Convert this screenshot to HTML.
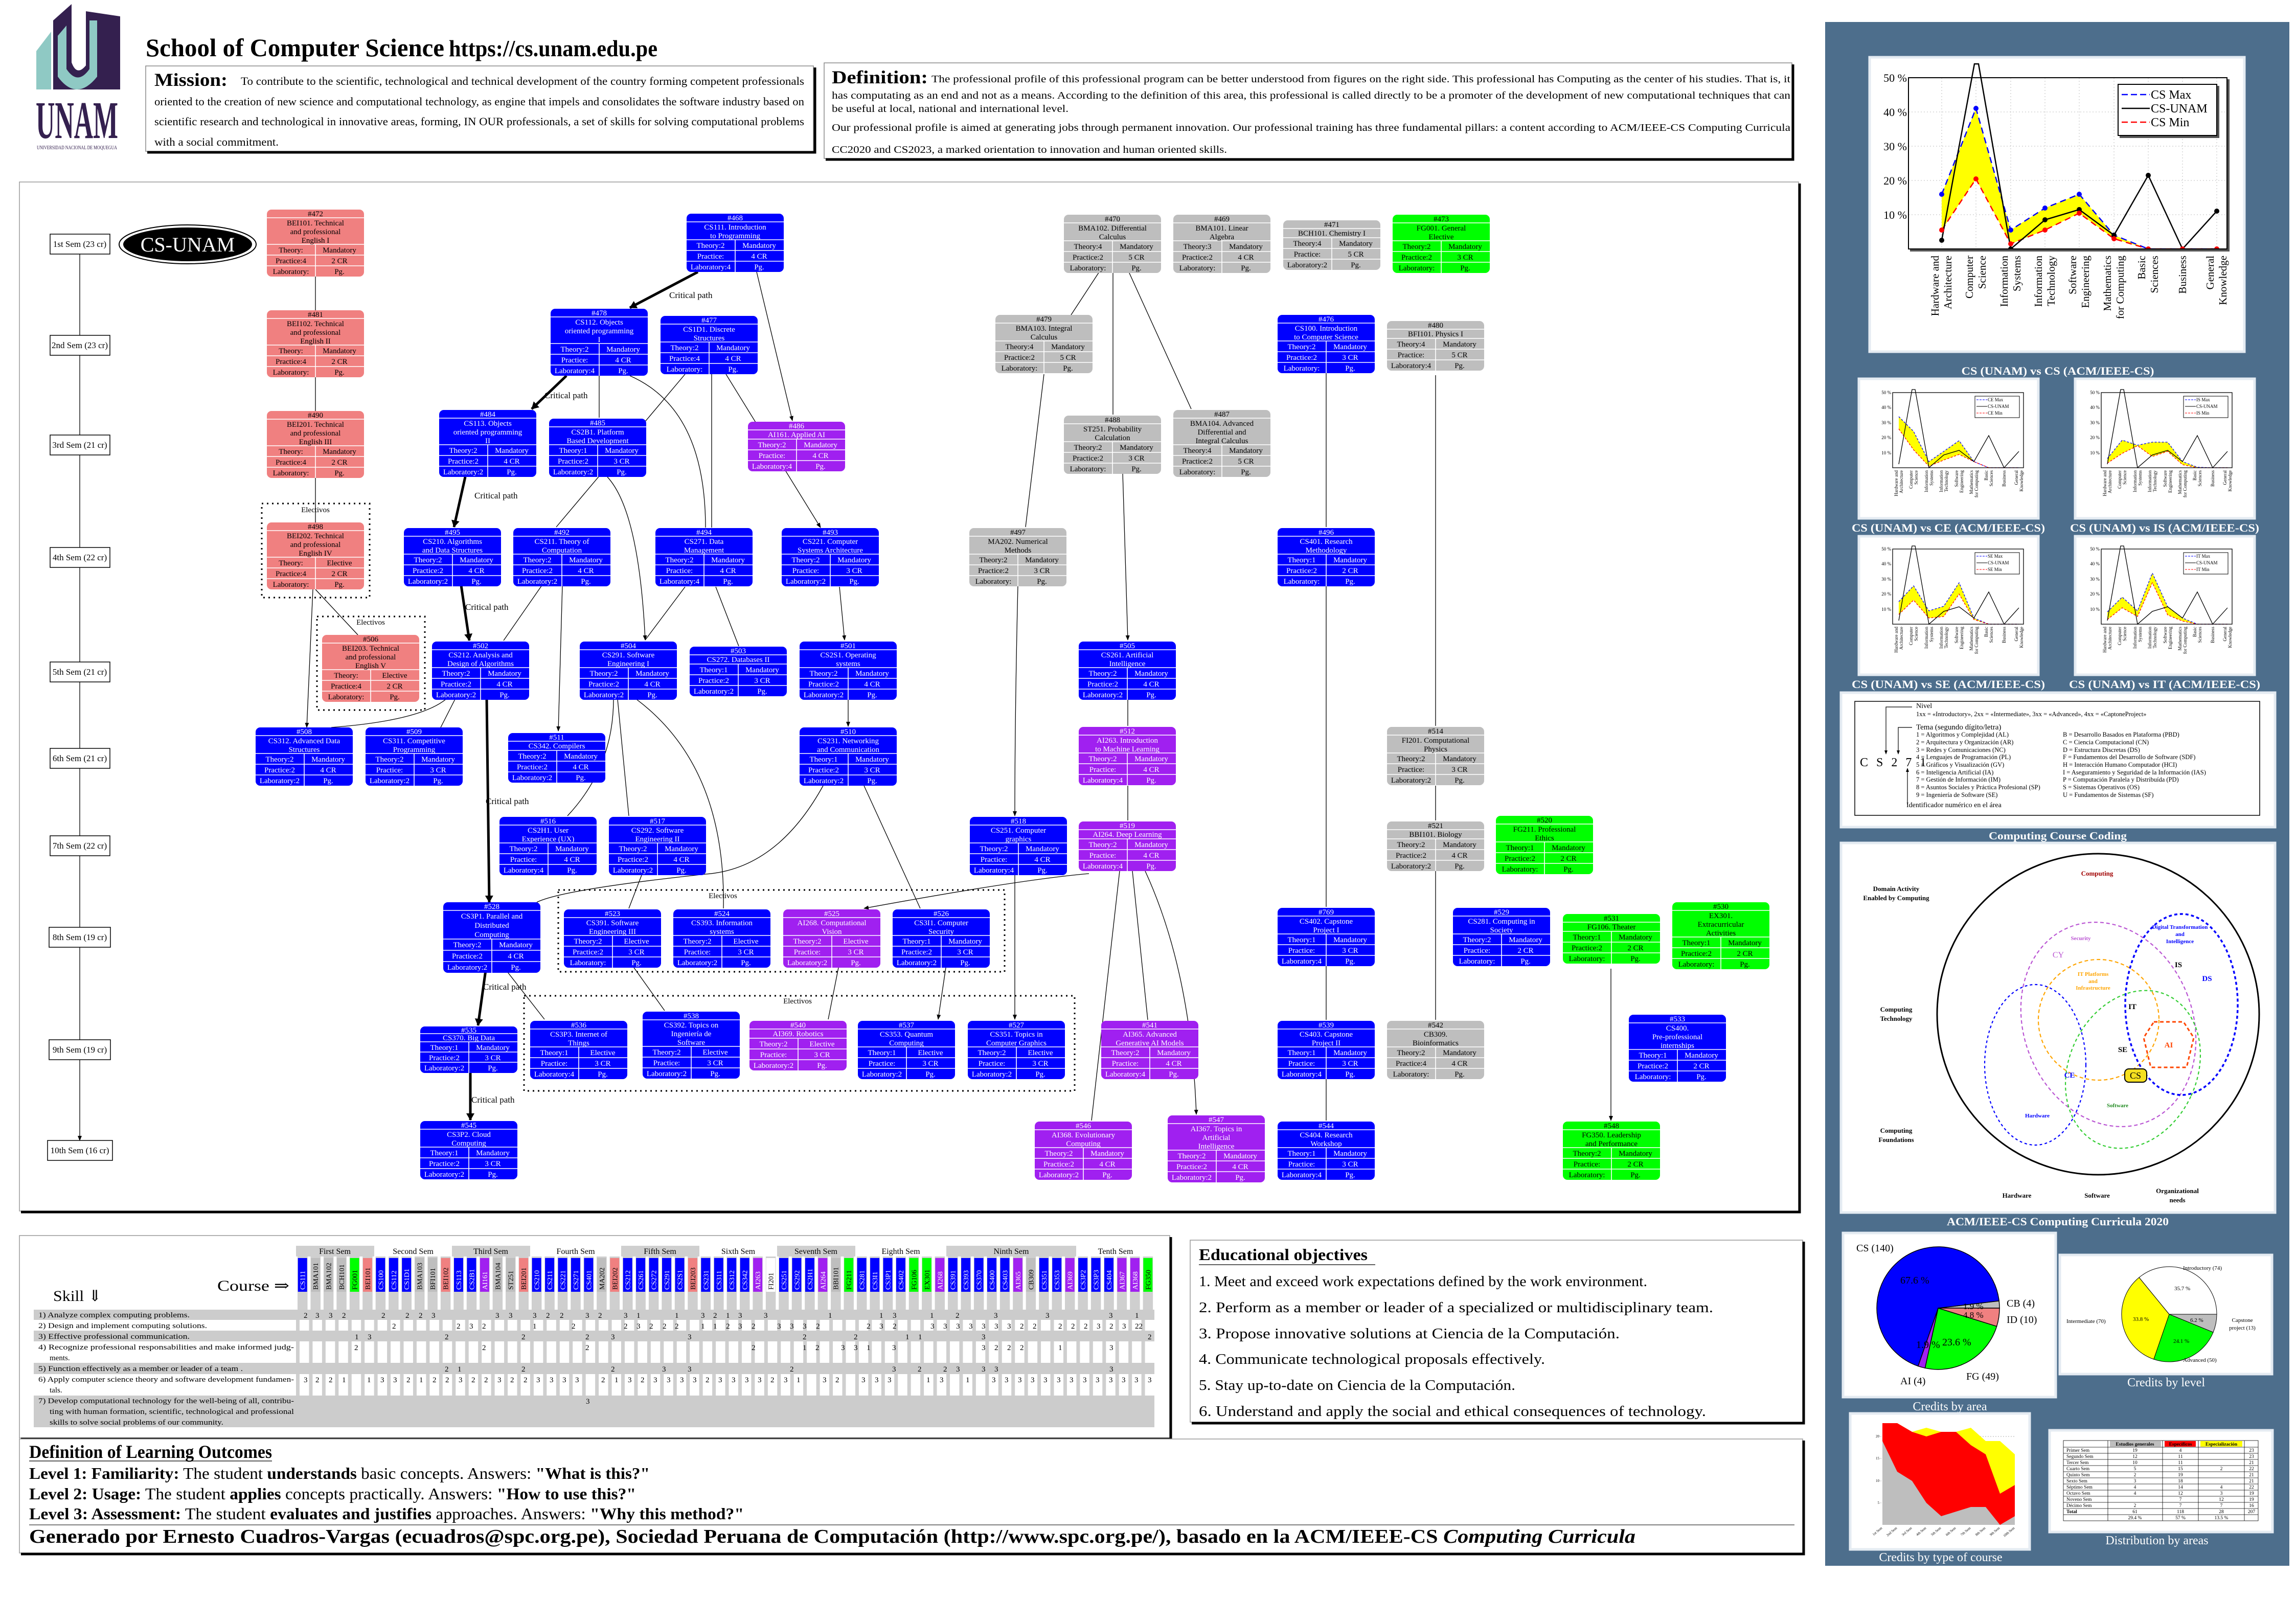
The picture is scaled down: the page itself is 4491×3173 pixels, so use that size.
<!DOCTYPE html>
<html><head><meta charset="utf-8">
<style>
html,body{margin:0;padding:0;background:#fff}
svg{display:block}
text{font-family:"Liberation Serif","DejaVu Serif",serif}
.n text{font-size:15px;text-anchor:middle}
.n path{stroke:#fff;stroke-width:1.6;fill:none}
.b rect{fill:#0000ff}.b text{fill:#fff}
.p rect{fill:#a020f0}.p text{fill:#fff}
.r rect{fill:#f08080}
.g rect{fill:#bebebe}
.e rect{fill:#00ff00}
.ed{stroke:#000;stroke-width:1.3;fill:none;marker-end:url(#ar)}
.ct{stroke:#000;stroke-width:5;fill:none;marker-end:url(#arb)}
.sem rect{fill:#fff;stroke:#000;stroke-width:1.5}
.sem text{font-size:17px;text-anchor:middle}
.cp{font-size:17px}
.elv{fill:none;stroke:#000;stroke-width:3;stroke-dasharray:3 7}
.pn{fill:#fff;stroke:#e4ebf2;stroke-width:5}
.st{fill:#fff;font-weight:bold;text-anchor:middle}
.sc text{font-size:9px}
.vt{font-size:13px;font-weight:bold;text-anchor:middle}
.ct2{font-size:12.5px}
.bar text{font-size:14px}
</style></head>
<body>
<svg width="4491" height="3173" viewBox="0 0 4491 3173" xmlns="http://www.w3.org/2000/svg">
<defs>
<marker id="ar" markerWidth="10" markerHeight="10" refX="9" refY="5" orient="auto" markerUnits="userSpaceOnUse" viewBox="0 0 10 10"><path d="M0 1L10 5L0 9z" fill="#000"/></marker>
<marker id="arb" markerWidth="14" markerHeight="18" refX="13" refY="9" orient="auto" markerUnits="userSpaceOnUse" viewBox="0 0 14 18"><path d="M0 1L14 9L0 17z" fill="#000"/></marker>
<pattern id="pc" x="579" y="0" width="25.44" height="10" patternUnits="userSpaceOnUse"><rect width="25.44" height="10" fill="#fff"/><rect x="3" width="19.5" height="10" fill="#cfcfcf"/></pattern>
<pattern id="pw" x="579" y="0" width="25.44" height="10" patternUnits="userSpaceOnUse"><rect width="25.44" height="10" fill="#fff"/><rect x="0" width="7" height="10" fill="#cfcfcf"/></pattern>
</defs>
<rect width="4491" height="3173" fill="#fff"/>

<!-- LOGO -->
<path d="M71 100 L100 62 L100 175 L71 175 Z" fill="#8fc9c4"/>
<path d="M104 40 L140 8 L140 122 Q150 150 168 128 L168 22 L235 32 L235 175 L104 175 Z" fill="#34204f"/>
<path d="M113 70 L130 50 L130 135 Q152 168 175 135 L175 40 L190 40 L190 150 Q150 200 113 150 Z" fill="#8fc9c4"/>
<text x="70" y="270" font-size="104" font-weight="bold" fill="#34204f" textLength="161" lengthAdjust="spacingAndGlyphs" font-family="Liberation Sans,sans-serif">UNAM</text>
<text x="72" y="292" font-size="10" fill="#34204f" textLength="157" lengthAdjust="spacingAndGlyphs" font-family="Liberation Sans,sans-serif">UNIVERSIDAD NACIONAL DE MOQUEGUA</text>

<!-- TITLE -->
<text x="285" y="110" font-size="50" font-weight="bold" textLength="584" lengthAdjust="spacingAndGlyphs">School of Computer Science</text>
<text x="878" y="110" font-size="46" font-weight="bold" textLength="408" lengthAdjust="spacingAndGlyphs">https://cs.unam.edu.pe</text>

<!-- MISSION -->
<rect x="285" y="129" width="1306" height="167" fill="#fff" stroke="#888" stroke-width="1.5"/>
<path d="M288 298H1594V132" stroke="#000" stroke-width="5" fill="none"/>
<text x="302" y="168" font-size="36" font-weight="bold" textLength="143" lengthAdjust="spacingAndGlyphs">Mission:</text>
<text x="471" y="166" font-size="22" textLength="1102" lengthAdjust="spacingAndGlyphs">To contribute to the scientific, technological and technical development of the country forming competent professionals</text>
<text x="302" y="206" font-size="22" textLength="1271" lengthAdjust="spacingAndGlyphs">oriented to the creation of new science and computational technology, as engine that impels and consolidates the software industry based on</text>
<text x="302" y="245" font-size="22" textLength="1271" lengthAdjust="spacingAndGlyphs">scientific research and technological in innovative areas, forming, IN OUR professionals, a set of skills for solving computational problems</text>
<text x="302" y="285" font-size="22" textLength="243" lengthAdjust="spacingAndGlyphs">with a social commitment.</text>

<!-- DEFINITION -->
<rect x="1612" y="123" width="1893" height="187" fill="#fff" stroke="#888" stroke-width="1.5"/>
<path d="M1615 312H3507V126" stroke="#000" stroke-width="5" fill="none"/>
<text x="1627" y="163" font-size="36" font-weight="bold" textLength="188" lengthAdjust="spacingAndGlyphs">Definition:</text>
<text x="1822" y="161" font-size="20" textLength="1680" lengthAdjust="spacingAndGlyphs">The professional profile of this professional program can be better understood from  figures on the right side. This professional has Computing as the center of his studies. That is, it</text>
<text x="1627" y="193" font-size="20" textLength="1875" lengthAdjust="spacingAndGlyphs">has computating as an end and not as a means. According to the definition of this area, this professional is called directly to be a promoter of the development of new computational techniques that can</text>
<text x="1627" y="219" font-size="20" textLength="463" lengthAdjust="spacingAndGlyphs">be useful at local, national and international level.</text>
<text x="1627" y="256" font-size="20" textLength="1875" lengthAdjust="spacingAndGlyphs">Our professional profile is aimed at generating jobs through permanent innovation. Our professional training has three fundamental pillars: a content according to ACM/IEEE-CS Computing Curricula</text>
<text x="1627" y="299" font-size="20" textLength="773" lengthAdjust="spacingAndGlyphs">CC2020 and CS2023, a marked orientation to innovation and human oriented skills.</text>

<!-- MAIN GRAPH BOX -->
<rect x="38" y="356" width="3480" height="2013" fill="#fff" stroke="#999" stroke-width="1.5"/>
<path d="M41 2371H3520V359" stroke="#000" stroke-width="5" fill="none"/>

<!-- Electives boxes -->
<rect class="elv" x="512" y="985" width="211" height="184"/>
<text x="617" y="1002" font-size="15" text-anchor="middle">Electivos</text>
<rect class="elv" x="620" y="1206" width="211" height="183"/>
<text x="725" y="1222" font-size="15" text-anchor="middle">Electivos</text>
<rect class="elv" x="1092" y="1741" width="873" height="160"/>
<text x="1414" y="1757" font-size="15" text-anchor="middle">Electivos</text>
<rect class="elv" x="1025" y="1948" width="1077" height="186"/>
<text x="1560" y="1963" font-size="15" text-anchor="middle">Electivos</text>

<!-- Semester chain -->
<g class="sem">
<rect x="98" y="458" width="117" height="39"/><text x="156" y="483">1st Sem (23 cr)</text>
<rect x="98" y="656" width="117" height="39"/><text x="156" y="681">2nd Sem (23 cr)</text>
<rect x="98" y="851" width="117" height="39"/><text x="156" y="876">3rd Sem (21 cr)</text>
<rect x="98" y="1071" width="117" height="39"/><text x="156" y="1096">4th Sem (22 cr)</text>
<rect x="98" y="1295" width="117" height="39"/><text x="156" y="1320">5th Sem (21 cr)</text>
<rect x="98" y="1464" width="117" height="39"/><text x="156" y="1489">6th Sem (21 cr)</text>
<rect x="98" y="1635" width="117" height="39"/><text x="156" y="1660">7th Sem (22 cr)</text>
<rect x="96" y="1814" width="120" height="39"/><text x="156" y="1839">8th Sem (19 cr)</text>
<rect x="96" y="2034" width="120" height="39"/><text x="156" y="2059">9th Sem (19 cr)</text>
<rect x="93" y="2231" width="127" height="39"/><text x="156" y="2256">10th Sem (16 cr)</text>
</g>
<path class="ed" d="M156 497V656M156 695V851M156 890V1071M156 1110V1295M156 1334V1464M156 1503V1635M156 1674V1814M156 1853V2034M156 2073V2231"/>

<!-- CS-UNAM ellipse -->
<ellipse cx="367" cy="478" rx="134" ry="38" fill="none" stroke="#000" stroke-width="2"/>
<ellipse cx="367" cy="478" rx="126" ry="33" fill="#000"/>
<text x="367" y="492" font-size="40" fill="#fff" text-anchor="middle">CS-UNAM</text>

<!-- EDGES -->
<path class="ed" d="M617 541V607M617 738V804M617 935V1022M617 1153L700 1242M612 1153L600 1423"/>
<path class="ct" d="M1365 532L1232 602"/>
<path class="ed" d="M1480 532L1550 823"/>
<path class="ct" d="M1108 735L1040 800"/>
<path class="ed" d="M1172 735V817M1232 735Q1380 800 1380 1032M1340 732L1088 1031M1392 732V1032M1420 732L1605 1032"/>
<path class="ct" d="M910 933L888 1031"/>
<path class="ed" d="M1188 933Q1250 1000 1262 1252"/>
<path class="ct" d="M902 1145L918 1253"/>
<path class="ed" d="M1060 1145L985 1253M1400 1148L1445 1264M1340 1148L1262 1252M1642 1148L1652 1252"/>
<path class="ct" d="M952 1368L957 1765"/>
<path class="ed" d="M872 1368Q820 1410 648 1423M890 1368L862 1423M1100 1145L1092 1430"/>
<path class="ed" d="M1200 1368Q1200 1500 1110 1596M1208 1368L1230 1596M1245 1368Q1420 1500 1415 1777M1659 1368V1421"/>
<path class="ed" d="M1610 1537Q1520 1700 1380 1710Q1100 1740 1050 1765M1690 1537L1800 1777M1255 1712L1230 1777M2130 1709Q2000 1720 1690 1777"/>
<path class="ed" d="M1985 1712V1994"/>
<path class="ct" d="M950 1898L935 2006"/>
<path class="ed" d="M990 1898L1065 1994M1240 1893L1300 1977M1640 1893L1620 1994M1850 1893L1835 1994"/>
<path class="ct" d="M920 2099V2191"/>
<path class="ed" d="M2150 532L2095 616M2177 532V811M2208 532L2330 800M2042 732L2006 1031M2196 925L2206 1252"/>
<path class="ed" d="M1991 1145Q1985 1400 1985 1596"/>
<path class="ed" d="M2206 1368V1420M2206 1537V1605M2215 1704L2245 1995M2190 1704L2135 2192M2240 1704Q2330 1900 2340 2180"/>
<path class="ed" d="M2594 730V1031M2594 1147V1774M2594 1890V1995M2594 2111V2192M2808 734V1420M2808 1537V1605M2808 1704V1995M3151 1895V2192"/>

<!-- Critical path labels -->
<text class="cp" x="1309" y="583">Critical path</text>
<text class="cp" x="1065" y="779">Critical path</text>
<text class="cp" x="928" y="975">Critical path</text>
<text class="cp" x="910" y="1193">Critical path</text>
<text class="cp" x="950" y="1573">Critical path</text>
<text class="cp" x="945" y="1936">Critical path</text>
<text class="cp" x="922" y="2157">Critical path</text>

<!-- NODES n=3 template: H131; n=2 H114; n=1 H97 -->
<g class="n r" transform="translate(522,410)"><rect width="190" height="131" rx="9"/><path d="M0 16H190M0 68H190M0 89H190M0 110H190M95 68V131"/><text x="95" y="13">#472</text><text x="95" y="31">BEI101. Technical</text><text x="95" y="48">and professional</text><text x="95" y="65">English I</text><text x="47" y="84">Theory:</text><text x="142" y="84">Mandatory</text><text x="47" y="105">Practice:4</text><text x="142" y="105">2 CR</text><text x="47" y="126">Laboratory:</text><text x="142" y="126">Pg.</text></g>
<g class="n r" transform="translate(522,607)"><rect width="190" height="131" rx="9"/><path d="M0 16H190M0 68H190M0 89H190M0 110H190M95 68V131"/><text x="95" y="13">#481</text><text x="95" y="31">BEI102. Technical</text><text x="95" y="48">and professional</text><text x="95" y="65">English II</text><text x="47" y="84">Theory:</text><text x="142" y="84">Mandatory</text><text x="47" y="105">Practice:4</text><text x="142" y="105">2 CR</text><text x="47" y="126">Laboratory:</text><text x="142" y="126">Pg.</text></g>
<g class="n r" transform="translate(522,804)"><rect width="190" height="131" rx="9"/><path d="M0 16H190M0 68H190M0 89H190M0 110H190M95 68V131"/><text x="95" y="13">#490</text><text x="95" y="31">BEI201. Technical</text><text x="95" y="48">and professional</text><text x="95" y="65">English III</text><text x="47" y="84">Theory:</text><text x="142" y="84">Mandatory</text><text x="47" y="105">Practice:4</text><text x="142" y="105">2 CR</text><text x="47" y="126">Laboratory:</text><text x="142" y="126">Pg.</text></g>
<g class="n r" transform="translate(522,1022)"><rect width="190" height="131" rx="9"/><path d="M0 16H190M0 68H190M0 89H190M0 110H190M95 68V131"/><text x="95" y="13">#498</text><text x="95" y="31">BEI202. Technical</text><text x="95" y="48">and professional</text><text x="95" y="65">English IV</text><text x="47" y="84">Theory:</text><text x="142" y="84">Elective</text><text x="47" y="105">Practice:4</text><text x="142" y="105">2 CR</text><text x="47" y="126">Laboratory:</text><text x="142" y="126">Pg.</text></g>
<g class="n r" transform="translate(630,1242)"><rect width="190" height="131" rx="9"/><path d="M0 16H190M0 68H190M0 89H190M0 110H190M95 68V131"/><text x="95" y="13">#506</text><text x="95" y="31">BEI203. Technical</text><text x="95" y="48">and professional</text><text x="95" y="65">English V</text><text x="47" y="84">Theory:</text><text x="142" y="84">Elective</text><text x="47" y="105">Practice:4</text><text x="142" y="105">2 CR</text><text x="47" y="126">Laboratory:</text><text x="142" y="126">Pg.</text></g>

<g class="n b" transform="translate(1343,418)"><rect width="190" height="114" rx="9"/><path d="M0 16H190M0 51H190M0 72H190M0 93H190M95 51V114"/><text x="95" y="13">#468</text><text x="95" y="31">CS111. Introduction</text><text x="95" y="48">to Programming</text><text x="47" y="67">Theory:2</text><text x="142" y="67">Mandatory</text><text x="47" y="88">Practice:</text><text x="142" y="88">4 CR</text><text x="47" y="109">Laboratory:4</text><text x="142" y="109">Pg.</text></g>
<g class="n b" transform="translate(1077,604)"><rect width="190" height="131" rx="9"/><path d="M0 16H190M0 68H190M0 89H190M0 110H190M95 68V131"/><text x="95" y="13">#478</text><text x="95" y="31">CS112. Objects</text><text x="95" y="48">oriented programming</text><text x="95" y="65">I</text><text x="47" y="84">Theory:2</text><text x="142" y="84">Mandatory</text><text x="47" y="105">Practice:</text><text x="142" y="105">4 CR</text><text x="47" y="126">Laboratory:4</text><text x="142" y="126">Pg.</text></g>
<g class="n b" transform="translate(1292,618)"><rect width="190" height="114" rx="9"/><path d="M0 16H190M0 51H190M0 72H190M0 93H190M95 51V114"/><text x="95" y="13">#477</text><text x="95" y="31">CS1D1. Discrete</text><text x="95" y="48">Structures</text><text x="47" y="67">Theory:2</text><text x="142" y="67">Mandatory</text><text x="47" y="88">Practice:4</text><text x="142" y="88">4 CR</text><text x="47" y="109">Laboratory:</text><text x="142" y="109">Pg.</text></g>
<g class="n p" transform="translate(1463,825)"><rect width="190" height="97" rx="9"/><path d="M0 16H190M0 34H190M0 55H190M0 76H190M95 34V97"/><text x="95" y="13">#486</text><text x="95" y="30">AI161. Applied AI</text><text x="47" y="50">Theory:2</text><text x="142" y="50">Mandatory</text><text x="47" y="71">Practice:</text><text x="142" y="71">4 CR</text><text x="47" y="92">Laboratory:4</text><text x="142" y="92">Pg.</text></g>
<g class="n b" transform="translate(859,802)"><rect width="190" height="131" rx="9"/><path d="M0 16H190M0 68H190M0 89H190M0 110H190M95 68V131"/><text x="95" y="13">#484</text><text x="95" y="31">CS113. Objects</text><text x="95" y="48">oriented programming</text><text x="95" y="65">II</text><text x="47" y="84">Theory:2</text><text x="142" y="84">Mandatory</text><text x="47" y="105">Practice:2</text><text x="142" y="105">4 CR</text><text x="47" y="126">Laboratory:2</text><text x="142" y="126">Pg.</text></g>
<g class="n b" transform="translate(1074,819)"><rect width="190" height="114" rx="9"/><path d="M0 16H190M0 51H190M0 72H190M0 93H190M95 51V114"/><text x="95" y="13">#485</text><text x="95" y="31">CS2B1. Platform</text><text x="95" y="48">Based Development</text><text x="47" y="67">Theory:1</text><text x="142" y="67">Mandatory</text><text x="47" y="88">Practice:2</text><text x="142" y="88">3 CR</text><text x="47" y="109">Laboratory:2</text><text x="142" y="109">Pg.</text></g>
<g class="n b" transform="translate(790,1033)"><rect width="190" height="114" rx="9"/><path d="M0 16H190M0 51H190M0 72H190M0 93H190M95 51V114"/><text x="95" y="13">#495</text><text x="95" y="31">CS210. Algorithms</text><text x="95" y="48">and Data Structures</text><text x="47" y="67">Theory:2</text><text x="142" y="67">Mandatory</text><text x="47" y="88">Practice:2</text><text x="142" y="88">4 CR</text><text x="47" y="109">Laboratory:2</text><text x="142" y="109">Pg.</text></g>
<g class="n b" transform="translate(1004,1033)"><rect width="190" height="114" rx="9"/><path d="M0 16H190M0 51H190M0 72H190M0 93H190M95 51V114"/><text x="95" y="13">#492</text><text x="95" y="31">CS211. Theory of</text><text x="95" y="48">Computation</text><text x="47" y="67">Theory:2</text><text x="142" y="67">Mandatory</text><text x="47" y="88">Practice:2</text><text x="142" y="88">4 CR</text><text x="47" y="109">Laboratory:2</text><text x="142" y="109">Pg.</text></g>
<g class="n b" transform="translate(1282,1033)"><rect width="190" height="114" rx="9"/><path d="M0 16H190M0 51H190M0 72H190M0 93H190M95 51V114"/><text x="95" y="13">#494</text><text x="95" y="31">CS271. Data</text><text x="95" y="48">Management</text><text x="47" y="67">Theory:2</text><text x="142" y="67">Mandatory</text><text x="47" y="88">Practice:</text><text x="142" y="88">4 CR</text><text x="47" y="109">Laboratory:4</text><text x="142" y="109">Pg.</text></g>
<g class="n b" transform="translate(1529,1033)"><rect width="190" height="114" rx="9"/><path d="M0 16H190M0 51H190M0 72H190M0 93H190M95 51V114"/><text x="95" y="13">#493</text><text x="95" y="31">CS221. Computer</text><text x="95" y="48">Systems Architecture</text><text x="47" y="67">Theory:2</text><text x="142" y="67">Mandatory</text><text x="47" y="88">Practice:</text><text x="142" y="88">3 CR</text><text x="47" y="109">Laboratory:2</text><text x="142" y="109">Pg.</text></g>
<g class="n b" transform="translate(845,1255)"><rect width="190" height="114" rx="9"/><path d="M0 16H190M0 51H190M0 72H190M0 93H190M95 51V114"/><text x="95" y="13">#502</text><text x="95" y="31">CS212. Analysis and</text><text x="95" y="48">Design of Algorithms</text><text x="47" y="67">Theory:2</text><text x="142" y="67">Mandatory</text><text x="47" y="88">Practice:2</text><text x="142" y="88">4 CR</text><text x="47" y="109">Laboratory:2</text><text x="142" y="109">Pg.</text></g>
<g class="n b" transform="translate(1134,1255)"><rect width="190" height="114" rx="9"/><path d="M0 16H190M0 51H190M0 72H190M0 93H190M95 51V114"/><text x="95" y="13">#504</text><text x="95" y="31">CS291. Software</text><text x="95" y="48">Engineering I</text><text x="47" y="67">Theory:2</text><text x="142" y="67">Mandatory</text><text x="47" y="88">Practice:2</text><text x="142" y="88">4 CR</text><text x="47" y="109">Laboratory:2</text><text x="142" y="109">Pg.</text></g>
<g class="n b" transform="translate(1349,1265)"><rect width="190" height="97" rx="9"/><path d="M0 16H190M0 34H190M0 55H190M0 76H190M95 34V97"/><text x="95" y="13">#503</text><text x="95" y="30">CS272. Databases II</text><text x="47" y="50">Theory:1</text><text x="142" y="50">Mandatory</text><text x="47" y="71">Practice:2</text><text x="142" y="71">3 CR</text><text x="47" y="92">Laboratory:2</text><text x="142" y="92">Pg.</text></g>
<g class="n b" transform="translate(1564,1255)"><rect width="190" height="114" rx="9"/><path d="M0 16H190M0 51H190M0 72H190M0 93H190M95 51V114"/><text x="95" y="13">#501</text><text x="95" y="31">CS2S1. Operating</text><text x="95" y="48">systems</text><text x="47" y="67">Theory:2</text><text x="142" y="67">Mandatory</text><text x="47" y="88">Practice:2</text><text x="142" y="88">4 CR</text><text x="47" y="109">Laboratory:2</text><text x="142" y="109">Pg.</text></g>
<g class="n b" transform="translate(500,1423)"><rect width="190" height="114" rx="9"/><path d="M0 16H190M0 51H190M0 72H190M0 93H190M95 51V114"/><text x="95" y="13">#508</text><text x="95" y="31">CS312. Advanced Data</text><text x="95" y="48">Structures</text><text x="47" y="67">Theory:2</text><text x="142" y="67">Mandatory</text><text x="47" y="88">Practice:2</text><text x="142" y="88">4 CR</text><text x="47" y="109">Laboratory:2</text><text x="142" y="109">Pg.</text></g>
<g class="n b" transform="translate(715,1423)"><rect width="190" height="114" rx="9"/><path d="M0 16H190M0 51H190M0 72H190M0 93H190M95 51V114"/><text x="95" y="13">#509</text><text x="95" y="31">CS311. Competitive</text><text x="95" y="48">Programming</text><text x="47" y="67">Theory:2</text><text x="142" y="67">Mandatory</text><text x="47" y="88">Practice:</text><text x="142" y="88">3 CR</text><text x="47" y="109">Laboratory:2</text><text x="142" y="109">Pg.</text></g>
<g class="n b" transform="translate(994,1434)"><rect width="190" height="97" rx="9"/><path d="M0 16H190M0 34H190M0 55H190M0 76H190M95 34V97"/><text x="95" y="13">#511</text><text x="95" y="30">CS342. Compilers</text><text x="47" y="50">Theory:2</text><text x="142" y="50">Mandatory</text><text x="47" y="71">Practice:2</text><text x="142" y="71">4 CR</text><text x="47" y="92">Laboratory:2</text><text x="142" y="92">Pg.</text></g>
<g class="n b" transform="translate(1564,1423)"><rect width="190" height="114" rx="9"/><path d="M0 16H190M0 51H190M0 72H190M0 93H190M95 51V114"/><text x="95" y="13">#510</text><text x="95" y="31">CS231. Networking</text><text x="95" y="48">and Communication</text><text x="47" y="67">Theory:1</text><text x="142" y="67">Mandatory</text><text x="47" y="88">Practice:2</text><text x="142" y="88">3 CR</text><text x="47" y="109">Laboratory:2</text><text x="142" y="109">Pg.</text></g>
<g class="n p" transform="translate(2110,1422)"><rect width="190" height="114" rx="9"/><path d="M0 16H190M0 51H190M0 72H190M0 93H190M95 51V114"/><text x="95" y="13">#512</text><text x="95" y="31">AI263. Introduction</text><text x="95" y="48">to Machine Learning</text><text x="47" y="67">Theory:2</text><text x="142" y="67">Mandatory</text><text x="47" y="88">Practice:</text><text x="142" y="88">4 CR</text><text x="47" y="109">Laboratory:4</text><text x="142" y="109">Pg.</text></g>
<g class="n b" transform="translate(977,1598)"><rect width="190" height="114" rx="9"/><path d="M0 16H190M0 51H190M0 72H190M0 93H190M95 51V114"/><text x="95" y="13">#516</text><text x="95" y="31">CS2H1. User</text><text x="95" y="48">Experience (UX)</text><text x="47" y="67">Theory:2</text><text x="142" y="67">Mandatory</text><text x="47" y="88">Practice:</text><text x="142" y="88">4 CR</text><text x="47" y="109">Laboratory:4</text><text x="142" y="109">Pg.</text></g>
<g class="n b" transform="translate(1191,1598)"><rect width="190" height="114" rx="9"/><path d="M0 16H190M0 51H190M0 72H190M0 93H190M95 51V114"/><text x="95" y="13">#517</text><text x="95" y="31">CS292. Software</text><text x="95" y="48">Engineering II</text><text x="47" y="67">Theory:2</text><text x="142" y="67">Mandatory</text><text x="47" y="88">Practice:2</text><text x="142" y="88">4 CR</text><text x="47" y="109">Laboratory:2</text><text x="142" y="109">Pg.</text></g>
<g class="n b" transform="translate(1897,1598)"><rect width="190" height="114" rx="9"/><path d="M0 16H190M0 51H190M0 72H190M0 93H190M95 51V114"/><text x="95" y="13">#518</text><text x="95" y="31">CS251. Computer</text><text x="95" y="48">graphics</text><text x="47" y="67">Theory:2</text><text x="142" y="67">Mandatory</text><text x="47" y="88">Practice:</text><text x="142" y="88">4 CR</text><text x="47" y="109">Laboratory:4</text><text x="142" y="109">Pg.</text></g>
<g class="n p" transform="translate(2110,1607)"><rect width="190" height="97" rx="9"/><path d="M0 16H190M0 34H190M0 55H190M0 76H190M95 34V97"/><text x="95" y="13">#519</text><text x="95" y="30">AI264. Deep Learning</text><text x="47" y="50">Theory:2</text><text x="142" y="50">Mandatory</text><text x="47" y="71">Practice:</text><text x="142" y="71">4 CR</text><text x="47" y="92">Laboratory:4</text><text x="142" y="92">Pg.</text></g>
<g class="n b" transform="translate(867,1765)"><rect width="190" height="138" rx="9"/><path d="M0 16H190M0 72H190M0 94H190M0 116H190M95 72V138"/><text x="95" y="13">#528</text><text x="95" y="32">CS3P1. Parallel and</text><text x="95" y="50">Distributed</text><text x="95" y="68">Computing</text><text x="47" y="88">Theory:2</text><text x="142" y="88">Mandatory</text><text x="47" y="110">Practice:2</text><text x="142" y="110">4 CR</text><text x="47" y="132">Laboratory:2</text><text x="142" y="132">Pg.</text></g>
<g class="n b" transform="translate(1103,1779)"><rect width="190" height="114" rx="9"/><path d="M0 16H190M0 51H190M0 72H190M0 93H190M95 51V114"/><text x="95" y="13">#523</text><text x="95" y="31">CS391. Software</text><text x="95" y="48">Engineering III</text><text x="47" y="67">Theory:2</text><text x="142" y="67">Elective</text><text x="47" y="88">Practice:2</text><text x="142" y="88">3 CR</text><text x="47" y="109">Laboratory:</text><text x="142" y="109">Pg.</text></g>
<g class="n b" transform="translate(1317,1779)"><rect width="190" height="114" rx="9"/><path d="M0 16H190M0 51H190M0 72H190M0 93H190M95 51V114"/><text x="95" y="13">#524</text><text x="95" y="31">CS393. Information</text><text x="95" y="48">systems</text><text x="47" y="67">Theory:2</text><text x="142" y="67">Elective</text><text x="47" y="88">Practice:</text><text x="142" y="88">3 CR</text><text x="47" y="109">Laboratory:2</text><text x="142" y="109">Pg.</text></g>
<g class="n p" transform="translate(1532,1779)"><rect width="190" height="114" rx="9"/><path d="M0 16H190M0 51H190M0 72H190M0 93H190M95 51V114"/><text x="95" y="13">#525</text><text x="95" y="31">AI268. Computational</text><text x="95" y="48">Vision</text><text x="47" y="67">Theory:2</text><text x="142" y="67">Elective</text><text x="47" y="88">Practice:</text><text x="142" y="88">3 CR</text><text x="47" y="109">Laboratory:2</text><text x="142" y="109">Pg.</text></g>
<g class="n b" transform="translate(1746,1779)"><rect width="190" height="114" rx="9"/><path d="M0 16H190M0 51H190M0 72H190M0 93H190M95 51V114"/><text x="95" y="13">#526</text><text x="95" y="31">CS3I1. Computer</text><text x="95" y="48">Security</text><text x="47" y="67">Theory:1</text><text x="142" y="67">Mandatory</text><text x="47" y="88">Practice:2</text><text x="142" y="88">3 CR</text><text x="47" y="109">Laboratory:2</text><text x="142" y="109">Pg.</text></g>
<g class="n b" transform="translate(2842,1776)"><rect width="190" height="114" rx="9"/><path d="M0 16H190M0 51H190M0 72H190M0 93H190M95 51V114"/><text x="95" y="13">#529</text><text x="95" y="31">CS281. Computing in</text><text x="95" y="48">Society</text><text x="47" y="67">Theory:2</text><text x="142" y="67">Mandatory</text><text x="47" y="88">Practice:</text><text x="142" y="88">2 CR</text><text x="47" y="109">Laboratory:</text><text x="142" y="109">Pg.</text></g>
<g class="n b" transform="translate(822,2008)"><rect width="190" height="91" rx="9"/><path d="M0 14H190M0 30H190M0 50H190M0 70H190M95 30V91"/><text x="95" y="12">#535</text><text x="95" y="27">CS370. Big Data</text><text x="47" y="46">Theory:1</text><text x="142" y="46">Mandatory</text><text x="47" y="66">Practice:2</text><text x="142" y="66">3 CR</text><text x="47" y="86">Laboratory:2</text><text x="142" y="86">Pg.</text></g>
<g class="n b" transform="translate(1037,1997)"><rect width="190" height="114" rx="9"/><path d="M0 16H190M0 51H190M0 72H190M0 93H190M95 51V114"/><text x="95" y="13">#536</text><text x="95" y="31">CS3P3. Internet of</text><text x="95" y="48">Things</text><text x="47" y="67">Theory:1</text><text x="142" y="67">Elective</text><text x="47" y="88">Practice:</text><text x="142" y="88">3 CR</text><text x="47" y="109">Laboratory:4</text><text x="142" y="109">Pg.</text></g>
<g class="n b" transform="translate(1257,1979)"><rect width="190" height="131" rx="9"/><path d="M0 16H190M0 68H190M0 89H190M0 110H190M95 68V131"/><text x="95" y="13">#538</text><text x="95" y="31">CS392. Topics on</text><text x="95" y="48">Ingeniería de</text><text x="95" y="65">Software</text><text x="47" y="84">Theory:2</text><text x="142" y="84">Elective</text><text x="47" y="105">Practice:</text><text x="142" y="105">3 CR</text><text x="47" y="126">Laboratory:2</text><text x="142" y="126">Pg.</text></g>
<g class="n p" transform="translate(1466,1997)"><rect width="190" height="97" rx="9"/><path d="M0 16H190M0 34H190M0 55H190M0 76H190M95 34V97"/><text x="95" y="13">#540</text><text x="95" y="30">AI369. Robotics</text><text x="47" y="50">Theory:2</text><text x="142" y="50">Elective</text><text x="47" y="71">Practice:</text><text x="142" y="71">3 CR</text><text x="47" y="92">Laboratory:2</text><text x="142" y="92">Pg.</text></g>
<g class="n b" transform="translate(1678,1997)"><rect width="190" height="114" rx="9"/><path d="M0 16H190M0 51H190M0 72H190M0 93H190M95 51V114"/><text x="95" y="13">#537</text><text x="95" y="31">CS353. Quantum</text><text x="95" y="48">Computing</text><text x="47" y="67">Theory:1</text><text x="142" y="67">Elective</text><text x="47" y="88">Practice:</text><text x="142" y="88">3 CR</text><text x="47" y="109">Laboratory:2</text><text x="142" y="109">Pg.</text></g>
<g class="n b" transform="translate(1893,1997)"><rect width="190" height="114" rx="9"/><path d="M0 16H190M0 51H190M0 72H190M0 93H190M95 51V114"/><text x="95" y="13">#527</text><text x="95" y="31">CS351. Topics in</text><text x="95" y="48">Computer Graphics</text><text x="47" y="67">Theory:2</text><text x="142" y="67">Elective</text><text x="47" y="88">Practice:</text><text x="142" y="88">3 CR</text><text x="47" y="109">Laboratory:2</text><text x="142" y="109">Pg.</text></g>
<g class="n p" transform="translate(2154,1997)"><rect width="190" height="114" rx="9"/><path d="M0 16H190M0 51H190M0 72H190M0 93H190M95 51V114"/><text x="95" y="13">#541</text><text x="95" y="31">AI365. Advanced</text><text x="95" y="48">Generative AI Models</text><text x="47" y="67">Theory:2</text><text x="142" y="67">Mandatory</text><text x="47" y="88">Practice:</text><text x="142" y="88">4 CR</text><text x="47" y="109">Laboratory:4</text><text x="142" y="109">Pg.</text></g>
<g class="n b" transform="translate(822,2193)"><rect width="190" height="114" rx="9"/><path d="M0 16H190M0 51H190M0 72H190M0 93H190M95 51V114"/><text x="95" y="13">#545</text><text x="95" y="31">CS3P2. Cloud</text><text x="95" y="48">Computing</text><text x="47" y="67">Theory:1</text><text x="142" y="67">Mandatory</text><text x="47" y="88">Practice:2</text><text x="142" y="88">3 CR</text><text x="47" y="109">Laboratory:2</text><text x="142" y="109">Pg.</text></g>
<g class="n p" transform="translate(2024,2194)"><rect width="190" height="114" rx="9"/><path d="M0 16H190M0 51H190M0 72H190M0 93H190M95 51V114"/><text x="95" y="13">#546</text><text x="95" y="31">AI368. Evolutionary</text><text x="95" y="48">Computing</text><text x="47" y="67">Theory:2</text><text x="142" y="67">Mandatory</text><text x="47" y="88">Practice:2</text><text x="142" y="88">4 CR</text><text x="47" y="109">Laboratory:2</text><text x="142" y="109">Pg.</text></g>
<g class="n p" transform="translate(2284,2182)"><rect width="190" height="131" rx="9"/><path d="M0 16H190M0 68H190M0 89H190M0 110H190M95 68V131"/><text x="95" y="13">#547</text><text x="95" y="31">AI367. Topics in</text><text x="95" y="48">Artificial</text><text x="95" y="65">Intelligence</text><text x="47" y="84">Theory:2</text><text x="142" y="84">Mandatory</text><text x="47" y="105">Practice:2</text><text x="142" y="105">4 CR</text><text x="47" y="126">Laboratory:2</text><text x="142" y="126">Pg.</text></g>
<g class="n b" transform="translate(2499,2194)"><rect width="190" height="114" rx="9"/><path d="M0 16H190M0 51H190M0 72H190M0 93H190M95 51V114"/><text x="95" y="13">#544</text><text x="95" y="31">CS404. Research</text><text x="95" y="48">Workshop</text><text x="47" y="67">Theory:1</text><text x="142" y="67">Mandatory</text><text x="47" y="88">Practice:</text><text x="142" y="88">3 CR</text><text x="47" y="109">Laboratory:4</text><text x="142" y="109">Pg.</text></g>

<g class="n g" transform="translate(2081,420)"><rect width="190" height="114" rx="9"/><path d="M0 16H190M0 51H190M0 72H190M0 93H190M95 51V114"/><text x="95" y="13">#470</text><text x="95" y="31">BMA102. Differential</text><text x="95" y="48">Calculus</text><text x="47" y="67">Theory:4</text><text x="142" y="67">Mandatory</text><text x="47" y="88">Practice:2</text><text x="142" y="88">5 CR</text><text x="47" y="109">Laboratory:</text><text x="142" y="109">Pg.</text></g>
<g class="n g" transform="translate(2295,420)"><rect width="190" height="114" rx="9"/><path d="M0 16H190M0 51H190M0 72H190M0 93H190M95 51V114"/><text x="95" y="13">#469</text><text x="95" y="31">BMA101. Linear</text><text x="95" y="48">Algebra</text><text x="47" y="67">Theory:3</text><text x="142" y="67">Mandatory</text><text x="47" y="88">Practice:2</text><text x="142" y="88">4 CR</text><text x="47" y="109">Laboratory:</text><text x="142" y="109">Pg.</text></g>
<g class="n g" transform="translate(2510,431)"><rect width="190" height="97" rx="9"/><path d="M0 16H190M0 34H190M0 55H190M0 76H190M95 34V97"/><text x="95" y="13">#471</text><text x="95" y="30">BCH101. Chemistry I</text><text x="47" y="50">Theory:4</text><text x="142" y="50">Mandatory</text><text x="47" y="71">Practice:</text><text x="142" y="71">5 CR</text><text x="47" y="92">Laboratory:2</text><text x="142" y="92">Pg.</text></g>
<g class="n e" transform="translate(2724,420)"><rect width="190" height="114" rx="9"/><path d="M0 16H190M0 51H190M0 72H190M0 93H190M95 51V114"/><text x="95" y="13">#473</text><text x="95" y="31">FG001. General</text><text x="95" y="48">Elective</text><text x="47" y="67">Theory:2</text><text x="142" y="67">Mandatory</text><text x="47" y="88">Practice:2</text><text x="142" y="88">3 CR</text><text x="47" y="109">Laboratory:</text><text x="142" y="109">Pg.</text></g>
<g class="n g" transform="translate(1947,616)"><rect width="190" height="114" rx="9"/><path d="M0 16H190M0 51H190M0 72H190M0 93H190M95 51V114"/><text x="95" y="13">#479</text><text x="95" y="31">BMA103. Integral</text><text x="95" y="48">Calculus</text><text x="47" y="67">Theory:4</text><text x="142" y="67">Mandatory</text><text x="47" y="88">Practice:2</text><text x="142" y="88">5 CR</text><text x="47" y="109">Laboratory:</text><text x="142" y="109">Pg.</text></g>
<g class="n b" transform="translate(2499,616)"><rect width="190" height="114" rx="9"/><path d="M0 16H190M0 51H190M0 72H190M0 93H190M95 51V114"/><text x="95" y="13">#476</text><text x="95" y="31">CS100. Introduction</text><text x="95" y="48">to Computer Science</text><text x="47" y="67">Theory:2</text><text x="142" y="67">Mandatory</text><text x="47" y="88">Practice:2</text><text x="142" y="88">3 CR</text><text x="47" y="109">Laboratory:</text><text x="142" y="109">Pg.</text></g>
<g class="n g" transform="translate(2713,628)"><rect width="190" height="97" rx="9"/><path d="M0 16H190M0 34H190M0 55H190M0 76H190M95 34V97"/><text x="95" y="13">#480</text><text x="95" y="30">BFI101. Physics I</text><text x="47" y="50">Theory:4</text><text x="142" y="50">Mandatory</text><text x="47" y="71">Practice:</text><text x="142" y="71">5 CR</text><text x="47" y="92">Laboratory:4</text><text x="142" y="92">Pg.</text></g>
<g class="n g" transform="translate(2081,813)"><rect width="190" height="114" rx="9"/><path d="M0 16H190M0 51H190M0 72H190M0 93H190M95 51V114"/><text x="95" y="13">#488</text><text x="95" y="31">ST251. Probability</text><text x="95" y="48">Calculation</text><text x="47" y="67">Theory:2</text><text x="142" y="67">Mandatory</text><text x="47" y="88">Practice:2</text><text x="142" y="88">3 CR</text><text x="47" y="109">Laboratory:</text><text x="142" y="109">Pg.</text></g>
<g class="n g" transform="translate(2295,802)"><rect width="190" height="131" rx="9"/><path d="M0 16H190M0 68H190M0 89H190M0 110H190M95 68V131"/><text x="95" y="13">#487</text><text x="95" y="31">BMA104. Advanced</text><text x="95" y="48">Differential and</text><text x="95" y="65">Integral Calculus</text><text x="47" y="84">Theory:4</text><text x="142" y="84">Mandatory</text><text x="47" y="105">Practice:2</text><text x="142" y="105">5 CR</text><text x="47" y="126">Laboratory:</text><text x="142" y="126">Pg.</text></g>
<g class="n g" transform="translate(1896,1033)"><rect width="190" height="114" rx="9"/><path d="M0 16H190M0 51H190M0 72H190M0 93H190M95 51V114"/><text x="95" y="13">#497</text><text x="95" y="31">MA202. Numerical</text><text x="95" y="48">Methods</text><text x="47" y="67">Theory:2</text><text x="142" y="67">Mandatory</text><text x="47" y="88">Practice:2</text><text x="142" y="88">3 CR</text><text x="47" y="109">Laboratory:</text><text x="142" y="109">Pg.</text></g>
<g class="n b" transform="translate(2499,1033)"><rect width="190" height="114" rx="9"/><path d="M0 16H190M0 51H190M0 72H190M0 93H190M95 51V114"/><text x="95" y="13">#496</text><text x="95" y="31">CS401. Research</text><text x="95" y="48">Methodology</text><text x="47" y="67">Theory:1</text><text x="142" y="67">Mandatory</text><text x="47" y="88">Practice:2</text><text x="142" y="88">2 CR</text><text x="47" y="109">Laboratory:</text><text x="142" y="109">Pg.</text></g>
<g class="n b" transform="translate(2110,1255)"><rect width="190" height="114" rx="9"/><path d="M0 16H190M0 51H190M0 72H190M0 93H190M95 51V114"/><text x="95" y="13">#505</text><text x="95" y="31">CS261. Artificial</text><text x="95" y="48">Intelligence</text><text x="47" y="67">Theory:2</text><text x="142" y="67">Mandatory</text><text x="47" y="88">Practice:2</text><text x="142" y="88">4 CR</text><text x="47" y="109">Laboratory:2</text><text x="142" y="109">Pg.</text></g>
<g class="n g" transform="translate(2713,1422)"><rect width="190" height="114" rx="9"/><path d="M0 16H190M0 51H190M0 72H190M0 93H190M95 51V114"/><text x="95" y="13">#514</text><text x="95" y="31">FI201. Computational</text><text x="95" y="48">Physics</text><text x="47" y="67">Theory:2</text><text x="142" y="67">Mandatory</text><text x="47" y="88">Practice:</text><text x="142" y="88">3 CR</text><text x="47" y="109">Laboratory:2</text><text x="142" y="109">Pg.</text></g>
<g class="n g" transform="translate(2713,1607)"><rect width="190" height="97" rx="9"/><path d="M0 16H190M0 34H190M0 55H190M0 76H190M95 34V97"/><text x="95" y="13">#521</text><text x="95" y="30">BBI101. Biology</text><text x="47" y="50">Theory:2</text><text x="142" y="50">Mandatory</text><text x="47" y="71">Practice:2</text><text x="142" y="71">4 CR</text><text x="47" y="92">Laboratory:2</text><text x="142" y="92">Pg.</text></g>
<g class="n e" transform="translate(2926,1596)"><rect width="190" height="114" rx="9"/><path d="M0 16H190M0 51H190M0 72H190M0 93H190M95 51V114"/><text x="95" y="13">#520</text><text x="95" y="31">FG211. Professional</text><text x="95" y="48">Ethics</text><text x="47" y="67">Theory:1</text><text x="142" y="67">Mandatory</text><text x="47" y="88">Practice:2</text><text x="142" y="88">2 CR</text><text x="47" y="109">Laboratory:</text><text x="142" y="109">Pg.</text></g>
<g class="n b" transform="translate(2499,1776)"><rect width="190" height="114" rx="9"/><path d="M0 16H190M0 51H190M0 72H190M0 93H190M95 51V114"/><text x="95" y="13">#769</text><text x="95" y="31">CS402. Capstone</text><text x="95" y="48">Project I</text><text x="47" y="67">Theory:1</text><text x="142" y="67">Mandatory</text><text x="47" y="88">Practice:</text><text x="142" y="88">3 CR</text><text x="47" y="109">Laboratory:4</text><text x="142" y="109">Pg.</text></g>
<g class="n e" transform="translate(3057,1788)"><rect width="190" height="97" rx="9"/><path d="M0 16H190M0 34H190M0 55H190M0 76H190M95 34V97"/><text x="95" y="13">#531</text><text x="95" y="30">FG106. Theater</text><text x="47" y="50">Theory:1</text><text x="142" y="50">Mandatory</text><text x="47" y="71">Practice:2</text><text x="142" y="71">2 CR</text><text x="47" y="92">Laboratory:</text><text x="142" y="92">Pg.</text></g>
<g class="n e" transform="translate(3271,1765)"><rect width="190" height="131" rx="9"/><path d="M0 16H190M0 68H190M0 89H190M0 110H190M95 68V131"/><text x="95" y="13">#530</text><text x="95" y="31">EX301.</text><text x="95" y="48">Extracurricular</text><text x="95" y="65">Activities</text><text x="47" y="84">Theory:1</text><text x="142" y="84">Mandatory</text><text x="47" y="105">Practice:2</text><text x="142" y="105">2 CR</text><text x="47" y="126">Laboratory:</text><text x="142" y="126">Pg.</text></g>
<g class="n b" transform="translate(2499,1997)"><rect width="190" height="114" rx="9"/><path d="M0 16H190M0 51H190M0 72H190M0 93H190M95 51V114"/><text x="95" y="13">#539</text><text x="95" y="31">CS403. Capstone</text><text x="95" y="48">Project II</text><text x="47" y="67">Theory:1</text><text x="142" y="67">Mandatory</text><text x="47" y="88">Practice:</text><text x="142" y="88">3 CR</text><text x="47" y="109">Laboratory:4</text><text x="142" y="109">Pg.</text></g>
<g class="n g" transform="translate(2713,1997)"><rect width="190" height="114" rx="9"/><path d="M0 16H190M0 51H190M0 72H190M0 93H190M95 51V114"/><text x="95" y="13">#542</text><text x="95" y="31">CB309.</text><text x="95" y="48">Bioinformatics</text><text x="47" y="67">Theory:2</text><text x="142" y="67">Mandatory</text><text x="47" y="88">Practice:4</text><text x="142" y="88">4 CR</text><text x="47" y="109">Laboratory:</text><text x="142" y="109">Pg.</text></g>
<g class="n b" transform="translate(3186,1985)"><rect width="190" height="131" rx="9"/><path d="M0 16H190M0 68H190M0 89H190M0 110H190M95 68V131"/><text x="95" y="13">#533</text><text x="95" y="31">CS400.</text><text x="95" y="48">Pre-professional</text><text x="95" y="65">internships</text><text x="47" y="84">Theory:1</text><text x="142" y="84">Mandatory</text><text x="47" y="105">Practice:2</text><text x="142" y="105">2 CR</text><text x="47" y="126">Laboratory:</text><text x="142" y="126">Pg.</text></g>
<g class="n e" transform="translate(3057,2194)"><rect width="190" height="114" rx="9"/><path d="M0 16H190M0 51H190M0 72H190M0 93H190M95 51V114"/><text x="95" y="13">#548</text><text x="95" y="31">FG350. Leadership</text><text x="95" y="48">and Performance</text><text x="47" y="67">Theory:2</text><text x="142" y="67">Mandatory</text><text x="47" y="88">Practice:</text><text x="142" y="88">2 CR</text><text x="47" y="109">Laboratory:</text><text x="142" y="109">Pg.</text></g>

<!-- SKILL TABLE -->
<rect x="38" y="2417" width="2250" height="396" fill="#fff" stroke="#999" stroke-width="1.5"/>
<path d="M41 2815H2290V2420" stroke="#000" stroke-width="5" fill="none"/>
<rect x="579" y="2437" width="153" height="21" fill="#cfcfcf"/>
<rect x="884" y="2437" width="153" height="21" fill="#cfcfcf"/>
<rect x="1215" y="2437" width="153" height="21" fill="#cfcfcf"/>
<rect x="1520" y="2437" width="153" height="21" fill="#cfcfcf"/>
<rect x="1851" y="2437" width="254" height="21" fill="#cfcfcf"/>
<g font-size="16" text-anchor="middle">
<text x="655" y="2453">First Sem</text><text x="808" y="2453">Second Sem</text><text x="960" y="2453">Third Sem</text><text x="1126" y="2453">Fourth Sem</text><text x="1291" y="2453">Fifth Sem</text><text x="1444" y="2453">Sixth Sem</text><text x="1596" y="2453">Seventh Sem</text><text x="1762" y="2453">Eighth Sem</text><text x="1978" y="2453">Ninth Sem</text><text x="2182" y="2453">Tenth Sem</text>
</g>
<rect x="579" y="2458" width="1679" height="104" fill="url(#pc)"/>
<rect x="66" y="2562" width="2192" height="20" fill="#cccccc"/>
<rect x="579" y="2582" width="1679" height="21" fill="url(#pw)"/>
<rect x="66" y="2603" width="2192" height="21" fill="#cccccc"/>
<rect x="579" y="2624" width="1679" height="42" fill="url(#pw)"/>
<rect x="66" y="2666" width="2192" height="22" fill="#cccccc"/>
<rect x="579" y="2688" width="1679" height="42" fill="url(#pw)"/>
<rect x="66" y="2730" width="2192" height="62" fill="#cccccc"/>
<text x="425" y="2525" font-size="30" textLength="141" lengthAdjust="spacingAndGlyphs">Course ⇒</text>
<text x="104" y="2545" font-size="30" textLength="95" lengthAdjust="spacingAndGlyphs">Skill ⇓</text>
<g font-size="15">
<text x="75" y="2577" textLength="296" lengthAdjust="spacingAndGlyphs">1) Analyze complex computing problems.</text>
<text x="75" y="2598" textLength="330" lengthAdjust="spacingAndGlyphs">2) Design and implement computing solutions.</text>
<text x="75" y="2619" textLength="296" lengthAdjust="spacingAndGlyphs">3) Effective professional communication.</text>
<text x="75" y="2640" textLength="500" lengthAdjust="spacingAndGlyphs">4) Recognize professional responsabilities and make informed judg-</text>
<text x="97" y="2661">ments.</text>
<text x="75" y="2682" textLength="400" lengthAdjust="spacingAndGlyphs">5) Function effectively as a member or leader of a team .</text>
<text x="75" y="2703" textLength="500" lengthAdjust="spacingAndGlyphs">6) Apply computer science theory and software development fundamen-</text>
<text x="97" y="2724">tals.</text>
<text x="75" y="2745" textLength="500" lengthAdjust="spacingAndGlyphs">7) Develop computational technology for the well-being of all, contribu-</text>
<text x="97" y="2766" textLength="478" lengthAdjust="spacingAndGlyphs">ting with human formation, scientific, technological and professional</text>
<text x="97" y="2787" textLength="340" lengthAdjust="spacingAndGlyphs">skills to solve social problems of our community.</text>
<text y="2578" x="594 617 643 669 746 793 819 844 969 995 1042 1068 1095 1145 1170 1220 1245 1320 1371 1395 1420 1444 1494 1620 1720 1746 1819 1869 1944 2045 2169 2220">23322223333223231132133113123331</text>
<text y="2599" x="767 893 918 943 1042 1118 1220 1245 1270 1296 1320 1371 1395 1420 1444 1470 1520 1545 1570 1596 1695 1720 1746 1820 1845 1870 1895 1920 1945 1970 1995 2020 2070 2095 2120 2145 2170 2195 2220">2232122322211232333223233333332222232322</text>
<text y="2620" x="694 719 870 1020 1145 1195 1345 1570 1670 1771 1796 1920 2245">1322233221132</text>
<text y="2641" x="693 943 1145 1470 1570 1595 1645 1670 1695 1745 1920 1945 1970 1995 2070 2170">2222123313322213</text>
<text y="2683" x="870 895 1020 1195 1295 1345 1545 1745 1795 1845 1870 1920 1945 2170">21223323223333</text>
<text y="2704" x="594 617 643 669 718 744 769 795 820 846 871 897 922 947 973 998 1024 1049 1075 1100 1125 1176 1202 1228 1253 1278 1304 1330 1355 1380 1405 1431 1457 1482 1507 1533 1558 1609 1634 1685 1711 1736 1812 1838 1889 1940 1965 1991 2016 2041 2067 2092 2118 2143 2169 2194 2219 2245">3221133212232232233332132333323333231323331313333333333333</text>
<text x="1146" y="2746">3</text>
</g>
<g class="bar">
<g transform="translate(591.7,2527) rotate(-90)"><rect y="-9" width="66" height="18" fill="#00f"/><text x="4" y="5" fill="#fff">CS111</text></g>
<g transform="translate(617.2,2527) rotate(-90)"><rect y="-9" width="66" height="18" fill="#bebebe"/><text x="4" y="5">BMA101</text></g>
<g transform="translate(642.6,2527) rotate(-90)"><rect y="-9" width="66" height="18" fill="#bebebe"/><text x="4" y="5">BMA102</text></g>
<g transform="translate(668,2527) rotate(-90)"><rect y="-9" width="66" height="18" fill="#bebebe"/><text x="4" y="5">BCH101</text></g>
<g transform="translate(693.5,2527) rotate(-90)"><rect y="-9" width="66" height="18" fill="#0f0"/><text x="4" y="5">FG001</text></g>
<g transform="translate(718.9,2527) rotate(-90)"><rect y="-9" width="66" height="18" fill="#f08080"/><text x="4" y="5">BEI101</text></g>
<g transform="translate(744.3,2527) rotate(-90)"><rect y="-9" width="66" height="18" fill="#00f"/><text x="4" y="5" fill="#fff">CS100</text></g>
<g transform="translate(769.8,2527) rotate(-90)"><rect y="-9" width="66" height="18" fill="#00f"/><text x="4" y="5" fill="#fff">CS112</text></g>
<g transform="translate(795.2,2527) rotate(-90)"><rect y="-9" width="66" height="18" fill="#00f"/><text x="4" y="5" fill="#fff">CS1D1</text></g>
<g transform="translate(820.7,2527) rotate(-90)"><rect y="-9" width="66" height="18" fill="#bebebe"/><text x="4" y="5">BMA103</text></g>
<g transform="translate(846.1,2527) rotate(-90)"><rect y="-9" width="66" height="18" fill="#bebebe"/><text x="4" y="5">BFI101</text></g>
<g transform="translate(871.5,2527) rotate(-90)"><rect y="-9" width="66" height="18" fill="#f08080"/><text x="4" y="5">BEI102</text></g>
<g transform="translate(897,2527) rotate(-90)"><rect y="-9" width="66" height="18" fill="#00f"/><text x="4" y="5" fill="#fff">CS113</text></g>
<g transform="translate(922.4,2527) rotate(-90)"><rect y="-9" width="66" height="18" fill="#00f"/><text x="4" y="5" fill="#fff">CS2B1</text></g>
<g transform="translate(947.9,2527) rotate(-90)"><rect y="-9" width="66" height="18" fill="#a020f0"/><text x="4" y="5" fill="#fff">AI161</text></g>
<g transform="translate(973.3,2527) rotate(-90)"><rect y="-9" width="66" height="18" fill="#bebebe"/><text x="4" y="5">BMA104</text></g>
<g transform="translate(998.7,2527) rotate(-90)"><rect y="-9" width="66" height="18" fill="#bebebe"/><text x="4" y="5">ST251</text></g>
<g transform="translate(1024.2,2527) rotate(-90)"><rect y="-9" width="66" height="18" fill="#f08080"/><text x="4" y="5">BEI201</text></g>
<g transform="translate(1049.6,2527) rotate(-90)"><rect y="-9" width="66" height="18" fill="#00f"/><text x="4" y="5" fill="#fff">CS210</text></g>
<g transform="translate(1075.1,2527) rotate(-90)"><rect y="-9" width="66" height="18" fill="#00f"/><text x="4" y="5" fill="#fff">CS211</text></g>
<g transform="translate(1100.5,2527) rotate(-90)"><rect y="-9" width="66" height="18" fill="#00f"/><text x="4" y="5" fill="#fff">CS221</text></g>
<g transform="translate(1125.9,2527) rotate(-90)"><rect y="-9" width="66" height="18" fill="#00f"/><text x="4" y="5" fill="#fff">CS271</text></g>
<g transform="translate(1151.4,2527) rotate(-90)"><rect y="-9" width="66" height="18" fill="#00f"/><text x="4" y="5" fill="#fff">CS401</text></g>
<g transform="translate(1176.8,2527) rotate(-90)"><rect y="-9" width="66" height="18" fill="#bebebe"/><text x="4" y="5">MA202</text></g>
<g transform="translate(1202.3,2527) rotate(-90)"><rect y="-9" width="66" height="18" fill="#f08080"/><text x="4" y="5">BEI202</text></g>
<g transform="translate(1227.7,2527) rotate(-90)"><rect y="-9" width="66" height="18" fill="#00f"/><text x="4" y="5" fill="#fff">CS212</text></g>
<g transform="translate(1253.1,2527) rotate(-90)"><rect y="-9" width="66" height="18" fill="#00f"/><text x="4" y="5" fill="#fff">CS261</text></g>
<g transform="translate(1278.6,2527) rotate(-90)"><rect y="-9" width="66" height="18" fill="#00f"/><text x="4" y="5" fill="#fff">CS272</text></g>
<g transform="translate(1304,2527) rotate(-90)"><rect y="-9" width="66" height="18" fill="#00f"/><text x="4" y="5" fill="#fff">CS291</text></g>
<g transform="translate(1329.5,2527) rotate(-90)"><rect y="-9" width="66" height="18" fill="#00f"/><text x="4" y="5" fill="#fff">CS2S1</text></g>
<g transform="translate(1354.9,2527) rotate(-90)"><rect y="-9" width="66" height="18" fill="#f08080"/><text x="4" y="5">BEI203</text></g>
<g transform="translate(1380.3,2527) rotate(-90)"><rect y="-9" width="66" height="18" fill="#00f"/><text x="4" y="5" fill="#fff">CS231</text></g>
<g transform="translate(1405.8,2527) rotate(-90)"><rect y="-9" width="66" height="18" fill="#00f"/><text x="4" y="5" fill="#fff">CS311</text></g>
<g transform="translate(1431.2,2527) rotate(-90)"><rect y="-9" width="66" height="18" fill="#00f"/><text x="4" y="5" fill="#fff">CS312</text></g>
<g transform="translate(1456.7,2527) rotate(-90)"><rect y="-9" width="66" height="18" fill="#00f"/><text x="4" y="5" fill="#fff">CS342</text></g>
<g transform="translate(1482.1,2527) rotate(-90)"><rect y="-9" width="66" height="18" fill="#a020f0"/><text x="4" y="5" fill="#fff">AI263</text></g>
<g transform="translate(1507.5,2527) rotate(-90)"><rect y="-9" width="66" height="18" fill="#fff"/><text x="4" y="5">FI201</text></g>
<g transform="translate(1533,2527) rotate(-90)"><rect y="-9" width="66" height="18" fill="#00f"/><text x="4" y="5" fill="#fff">CS251</text></g>
<g transform="translate(1558.4,2527) rotate(-90)"><rect y="-9" width="66" height="18" fill="#00f"/><text x="4" y="5" fill="#fff">CS292</text></g>
<g transform="translate(1583.9,2527) rotate(-90)"><rect y="-9" width="66" height="18" fill="#00f"/><text x="4" y="5" fill="#fff">CS2H1</text></g>
<g transform="translate(1609.3,2527) rotate(-90)"><rect y="-9" width="66" height="18" fill="#a020f0"/><text x="4" y="5" fill="#fff">AI264</text></g>
<g transform="translate(1634.7,2527) rotate(-90)"><rect y="-9" width="66" height="18" fill="#bebebe"/><text x="4" y="5">BBI101</text></g>
<g transform="translate(1660.2,2527) rotate(-90)"><rect y="-9" width="66" height="18" fill="#0f0"/><text x="4" y="5">FG211</text></g>
<g transform="translate(1685.6,2527) rotate(-90)"><rect y="-9" width="66" height="18" fill="#00f"/><text x="4" y="5" fill="#fff">CS281</text></g>
<g transform="translate(1711.1,2527) rotate(-90)"><rect y="-9" width="66" height="18" fill="#00f"/><text x="4" y="5" fill="#fff">CS3I1</text></g>
<g transform="translate(1736.5,2527) rotate(-90)"><rect y="-9" width="66" height="18" fill="#00f"/><text x="4" y="5" fill="#fff">CS3P1</text></g>
<g transform="translate(1761.9,2527) rotate(-90)"><rect y="-9" width="66" height="18" fill="#00f"/><text x="4" y="5" fill="#fff">CS402</text></g>
<g transform="translate(1787.4,2527) rotate(-90)"><rect y="-9" width="66" height="18" fill="#0f0"/><text x="4" y="5">FG106</text></g>
<g transform="translate(1812.8,2527) rotate(-90)"><rect y="-9" width="66" height="18" fill="#0f0"/><text x="4" y="5">EX301</text></g>
<g transform="translate(1838.3,2527) rotate(-90)"><rect y="-9" width="66" height="18" fill="#a020f0"/><text x="4" y="5" fill="#fff">AI268</text></g>
<g transform="translate(1863.7,2527) rotate(-90)"><rect y="-9" width="66" height="18" fill="#00f"/><text x="4" y="5" fill="#fff">CS391</text></g>
<g transform="translate(1889.1,2527) rotate(-90)"><rect y="-9" width="66" height="18" fill="#00f"/><text x="4" y="5" fill="#fff">CS393</text></g>
<g transform="translate(1914.6,2527) rotate(-90)"><rect y="-9" width="66" height="18" fill="#00f"/><text x="4" y="5" fill="#fff">CS370</text></g>
<g transform="translate(1940,2527) rotate(-90)"><rect y="-9" width="66" height="18" fill="#00f"/><text x="4" y="5" fill="#fff">CS400</text></g>
<g transform="translate(1965.5,2527) rotate(-90)"><rect y="-9" width="66" height="18" fill="#00f"/><text x="4" y="5" fill="#fff">CS403</text></g>
<g transform="translate(1990.9,2527) rotate(-90)"><rect y="-9" width="66" height="18" fill="#a020f0"/><text x="4" y="5" fill="#fff">AI365</text></g>
<g transform="translate(2016.3,2527) rotate(-90)"><rect y="-9" width="66" height="18" fill="#bebebe"/><text x="4" y="5">CB309</text></g>
<g transform="translate(2041.8,2527) rotate(-90)"><rect y="-9" width="66" height="18" fill="#00f"/><text x="4" y="5" fill="#fff">CS351</text></g>
<g transform="translate(2067.2,2527) rotate(-90)"><rect y="-9" width="66" height="18" fill="#00f"/><text x="4" y="5" fill="#fff">CS353</text></g>
<g transform="translate(2092.7,2527) rotate(-90)"><rect y="-9" width="66" height="18" fill="#a020f0"/><text x="4" y="5" fill="#fff">AI369</text></g>
<g transform="translate(2118.1,2527) rotate(-90)"><rect y="-9" width="66" height="18" fill="#00f"/><text x="4" y="5" fill="#fff">CS3P2</text></g>
<g transform="translate(2143.5,2527) rotate(-90)"><rect y="-9" width="66" height="18" fill="#00f"/><text x="4" y="5" fill="#fff">CS3P3</text></g>
<g transform="translate(2169,2527) rotate(-90)"><rect y="-9" width="66" height="18" fill="#00f"/><text x="4" y="5" fill="#fff">CS404</text></g>
<g transform="translate(2194.4,2527) rotate(-90)"><rect y="-9" width="66" height="18" fill="#a020f0"/><text x="4" y="5" fill="#fff">AI367</text></g>
<g transform="translate(2219.9,2527) rotate(-90)"><rect y="-9" width="66" height="18" fill="#a020f0"/><text x="4" y="5" fill="#fff">AI368</text></g>
<g transform="translate(2245.3,2527) rotate(-90)"><rect y="-9" width="66" height="18" fill="#0f0"/><text x="4" y="5">FG350</text></g>
</g>

<!-- EDUCATIONAL OBJECTIVES -->
<rect x="2328" y="2426" width="1198" height="356" fill="#fff" stroke="#999" stroke-width="1.5"/>
<path d="M2331 2784H3528V2429" stroke="#000" stroke-width="5" fill="none"/>
<text x="2345" y="2465" font-size="32" font-weight="bold" textLength="330" lengthAdjust="spacingAndGlyphs">Educational objectives</text>
<path d="M2345 2474H2690" stroke="#000" stroke-width="1.2"/>
<g font-size="28">
<text x="2345" y="2516" textLength="877" lengthAdjust="spacingAndGlyphs">1. Meet and exceed work expectations defined by the work environment.</text>
<text x="2345" y="2567" textLength="1006" lengthAdjust="spacingAndGlyphs">2. Perform as a member or leader of a specialized or multidisciplinary team.</text>
<text x="2345" y="2618" textLength="823" lengthAdjust="spacingAndGlyphs">3. Propose innovative solutions at Ciencia de la Computación.</text>
<text x="2345" y="2668" textLength="677" lengthAdjust="spacingAndGlyphs">4. Communicate technological proposals effectively.</text>
<text x="2345" y="2719" textLength="619" lengthAdjust="spacingAndGlyphs">5. Stay up-to-date on Ciencia de la Computación.</text>
<text x="2345" y="2770" textLength="992" lengthAdjust="spacingAndGlyphs">6. Understand and apply the social and ethical consequences of technology.</text>
</g>

<!-- LEARNING OUTCOMES -->
<rect x="38" y="2815" width="3488" height="223" fill="#fff" stroke="#999" stroke-width="1.5"/>
<path d="M41 3040H3528V2818" stroke="#000" stroke-width="5" fill="none"/>
<text x="57" y="2852" font-size="36" font-weight="bold" textLength="475" lengthAdjust="spacingAndGlyphs">Definition of Learning Outcomes</text>
<path d="M57 2858H532" stroke="#000" stroke-width="1.2"/>
<text x="57" y="2893" font-size="32" textLength="1214" lengthAdjust="spacingAndGlyphs"><tspan font-weight="bold">Level 1: Familiarity:</tspan> The student <tspan font-weight="bold">understands</tspan> basic concepts. Answers: <tspan font-weight="bold">"What is this?"</tspan></text>
<text x="57" y="2933" font-size="32" textLength="1187" lengthAdjust="spacingAndGlyphs"><tspan font-weight="bold">Level 2: Usage:</tspan> The student <tspan font-weight="bold">applies</tspan> concepts practically. Answers: <tspan font-weight="bold">"How to use this?"</tspan></text>
<text x="57" y="2972" font-size="32" textLength="1398" lengthAdjust="spacingAndGlyphs"><tspan font-weight="bold">Level 3: Assessment:</tspan> The student <tspan font-weight="bold">evaluates and justifies</tspan> approaches. Answers: <tspan font-weight="bold">"Why this method?"</tspan></text>
<path d="M57 2983H3510" stroke="#555" stroke-width="1.5"/>
<text x="57" y="3018" font-size="38" font-weight="bold" textLength="3142" lengthAdjust="spacingAndGlyphs">Generado por Ernesto Cuadros-Vargas (ecuadros@spc.org.pe), Sociedad Peruana de Computación (http://www.spc.org.pe/), basado en la ACM/IEEE-CS <tspan font-style="italic">Computing Curricula</tspan></text>

<!-- SIDEBAR -->
<rect x="3570" y="43" width="908" height="3020" fill="#4d6e8c"/>

<!-- Main chart panel -->
<rect class="pn" x="3657" y="112" width="733" height="576"/>
<g stroke="#bbb" stroke-width="1" stroke-dasharray="2 4">
<path d="M3733 420H4356M3733 353H4356M3733 286H4356M3733 219H4356M3798 152V487M3865 152V487M3933 152V487M4000 152V487M4067 152V487M4135 152V487M4202 152V487M4269 152V487M4336 152V487"/>
</g>
<polygon points="3798,380 3865,212 3933,450 4000,407 4067,380 4135,460 4202,487 4269,487 4336,487 4336,487 4269,487 4202,487 4135,467 4067,417 4000,450 3933,477 3865,350 3798,450" fill="#ff0"/>
<polyline points="3798,380 3865,212 3933,450 4000,407 4067,380 4135,460 4202,487 4269,487 4336,487" fill="none" stroke="#00f" stroke-width="2.5" stroke-dasharray="12 8"/>
<polyline points="3798,450 3865,350 3933,477 4000,450 4067,417 4135,467 4202,487 4269,487 4336,487" fill="none" stroke="#f00" stroke-width="2.5" stroke-dasharray="12 8"/>
<polyline points="3798,470 3862,125 3870,125 3933,487 4000,430 4067,410 4135,460 4202,343 4269,487 4336,413" fill="none" stroke="#000" stroke-width="2.5"/>
<g fill="#00f"><circle cx="3798" cy="380" r="5"/><circle cx="3865" cy="212" r="5"/><circle cx="3933" cy="450" r="5"/><circle cx="4000" cy="407" r="5"/><circle cx="4067" cy="380" r="5"/><circle cx="4135" cy="460" r="5"/></g>
<g fill="#000"><circle cx="3798" cy="470" r="5"/><circle cx="3933" cy="487" r="5"/><circle cx="4000" cy="430" r="5"/><circle cx="4067" cy="410" r="5"/><circle cx="4135" cy="460" r="5"/><circle cx="4202" cy="343" r="5"/><circle cx="4336" cy="413" r="5"/></g>
<g fill="#f00"><circle cx="3798" cy="450" r="5"/><circle cx="3865" cy="350" r="5"/><circle cx="3933" cy="477" r="5"/><circle cx="4000" cy="450" r="5"/><circle cx="4067" cy="417" r="5"/><circle cx="4135" cy="467" r="5"/><circle cx="4202" cy="487" r="5"/><circle cx="4269" cy="487" r="5"/><circle cx="4336" cy="487" r="5"/></g>
<rect x="3733" y="152" width="623" height="335" fill="none" stroke="#000" stroke-width="2"/>
<path d="M3736 490H4359V155" stroke="#555" stroke-width="4" fill="none"/>
<g font-size="22" text-anchor="end"><text x="3730" y="160">50 %</text><text x="3730" y="227">40 %</text><text x="3730" y="294">30 %</text><text x="3730" y="361">20 %</text><text x="3730" y="428">10 %</text></g>
<rect x="4143" y="165" width="193" height="100" fill="#fff" stroke="#000" stroke-width="2"/>
<path d="M4146 268H4339V168" stroke="#555" stroke-width="4" fill="none"/>
<path d="M4150 185H4205" stroke="#00f" stroke-width="2.5" stroke-dasharray="12 6"/><path d="M4150 212H4205" stroke="#000" stroke-width="2.5"/><path d="M4150 239H4205" stroke="#f00" stroke-width="2.5" stroke-dasharray="12 6"/>
<g font-size="24"><text x="4207" y="193">CS Max</text><text x="4207" y="220">CS-UNAM</text><text x="4207" y="247">CS Min</text></g>
<g font-size="21" text-anchor="end">
<text transform="translate(3798,500) rotate(-90)"><tspan x="0" y="-6">Hardware and</tspan><tspan x="0" y="19">Architecture</tspan></text>
<text transform="translate(3865,500) rotate(-90)"><tspan x="0" y="-6">Computer</tspan><tspan x="0" y="19">Science</tspan></text>
<text transform="translate(3933,500) rotate(-90)"><tspan x="0" y="-6">Information</tspan><tspan x="0" y="19">Systems</tspan></text>
<text transform="translate(4000,500) rotate(-90)"><tspan x="0" y="-6">Information</tspan><tspan x="0" y="19">Technology</tspan></text>
<text transform="translate(4067,500) rotate(-90)"><tspan x="0" y="-6">Software</tspan><tspan x="0" y="19">Engineering</tspan></text>
<text transform="translate(4135,500) rotate(-90)"><tspan x="0" y="-6">Mathematics</tspan><tspan x="0" y="19">for Computing</tspan></text>
<text transform="translate(4202,500) rotate(-90)"><tspan x="0" y="-6">Basic</tspan><tspan x="0" y="19">Sciences</tspan></text>
<text transform="translate(4269,500) rotate(-90)"><tspan x="0" y="7">Business</tspan></text>
<text transform="translate(4336,500) rotate(-90)"><tspan x="0" y="-6">General</tspan><tspan x="0" y="19">Knowledge</tspan></text>
</g>
<text class="st" x="4025" y="733" font-size="22" textLength="377" lengthAdjust="spacingAndGlyphs">CS (UNAM) vs CS (ACM/IEEE-CS)</text>

<!-- small charts panels -->
<rect class="pn" x="3636" y="741" width="351" height="273"/>
<rect class="pn" x="4059" y="741" width="351" height="273"/>
<rect class="pn" x="3636" y="1049" width="351" height="271"/>
<rect class="pn" x="4059" y="1049" width="351" height="271"/>
<text class="st" x="3811" y="1040" font-size="22" textLength="378" lengthAdjust="spacingAndGlyphs">CS (UNAM) vs CE (ACM/IEEE-CS)</text>
<text class="st" x="4234" y="1040" font-size="22" textLength="370" lengthAdjust="spacingAndGlyphs">CS (UNAM) vs IS (ACM/IEEE-CS)</text>
<text class="st" x="3811" y="1346" font-size="22" textLength="378" lengthAdjust="spacingAndGlyphs">CS (UNAM) vs SE (ACM/IEEE-CS)</text>
<text class="st" x="4234" y="1346" font-size="22" textLength="374" lengthAdjust="spacingAndGlyphs">CS (UNAM) vs IT (ACM/IEEE-CS)</text>

<!-- CE -->
<g class="sc" transform="translate(3702,768)">
<polygon points="12,47 41,76 71,135 100,115 130,94 159,135 188,147 218,147 247,147 247,147 218,147 188,147 159,135 130,121 100,132 71,144 41,112 12,71" fill="#ff0"/>
<polyline points="12,47 41,76 71,135 100,115 130,94 159,135 188,147 218,147 247,147" fill="none" stroke="#00f" stroke-width="1.3" stroke-dasharray="4 3"/>
<polyline points="12,71 41,112 71,144 100,132 130,121 159,135 188,147 218,147 247,147" fill="none" stroke="#f00" stroke-width="1.3" stroke-dasharray="4 3"/>
<polyline points="12,140 38,-6 44,-6 71,147 100,122 130,113 159,135 188,84 218,147 247,115" fill="none" stroke="#000" stroke-width="1.3"/>
<rect width="256" height="147" fill="none" stroke="#000" stroke-width="1.3"/>
<g text-anchor="end"><text x="-3" y="3">50 %</text><text x="-3" y="32">40 %</text><text x="-3" y="62">30 %</text><text x="-3" y="91">20 %</text><text x="-3" y="121">10 %</text></g>
<rect x="161" y="7" width="87" height="42" fill="#fff" stroke="#000"/>
<path d="M164 14H185" stroke="#00f" stroke-dasharray="4 2"/><path d="M164 27H185" stroke="#000"/><path d="M164 40H185" stroke="#f00" stroke-dasharray="4 2"/>
<text x="186" y="17">CE Max</text><text x="186" y="30">CS-UNAM</text><text x="186" y="43">CE Min</text>
<g text-anchor="end">
<text transform="translate(12,152) rotate(-90)"><tspan x="0" y="-2">Hardware and</tspan><tspan x="0" y="8">Architecture</tspan></text>
<text transform="translate(41,152) rotate(-90)"><tspan x="0" y="-2">Computer</tspan><tspan x="0" y="8">Science</tspan></text>
<text transform="translate(71,152) rotate(-90)"><tspan x="0" y="-2">Information</tspan><tspan x="0" y="8">Systems</tspan></text>
<text transform="translate(100,152) rotate(-90)"><tspan x="0" y="-2">Information</tspan><tspan x="0" y="8">Technology</tspan></text>
<text transform="translate(130,152) rotate(-90)"><tspan x="0" y="-2">Software</tspan><tspan x="0" y="8">Engineering</tspan></text>
<text transform="translate(159,152) rotate(-90)"><tspan x="0" y="-2">Mathematics</tspan><tspan x="0" y="8">for Computing</tspan></text>
<text transform="translate(188,152) rotate(-90)"><tspan x="0" y="-2">Basic</tspan><tspan x="0" y="8">Sciences</tspan></text>
<text transform="translate(218,152) rotate(-90)"><tspan x="0" y="3">Business</tspan></text>
<text transform="translate(247,152) rotate(-90)"><tspan x="0" y="-2">General</tspan><tspan x="0" y="8">Knowledge</tspan></text>
</g></g>
<!-- IS -->
<g class="sc" transform="translate(4110,768)">
<polygon points="12,129 41,93 71,103 100,97 130,97 159,135 188,146 218,147 247,147 247,147 218,147 188,147 159,141 130,115 100,125 71,104 41,119 12,138" fill="#ff0"/>
<polyline points="12,129 41,93 71,103 100,97 130,97 159,135 188,146 218,147 247,147" fill="none" stroke="#00f" stroke-width="1.3" stroke-dasharray="4 3"/>
<polyline points="12,138 41,119 71,104 100,125 130,115 159,141 188,147 218,147 247,147" fill="none" stroke="#f00" stroke-width="1.3" stroke-dasharray="4 3"/>
<polyline points="12,140 38,-6 44,-6 71,147 100,122 130,113 159,135 188,84 218,147 247,115" fill="none" stroke="#000" stroke-width="1.3"/>
<rect width="256" height="147" fill="none" stroke="#000" stroke-width="1.3"/>
<g text-anchor="end"><text x="-3" y="3">50 %</text><text x="-3" y="32">40 %</text><text x="-3" y="62">30 %</text><text x="-3" y="91">20 %</text><text x="-3" y="121">10 %</text></g>
<rect x="161" y="7" width="87" height="42" fill="#fff" stroke="#000"/>
<path d="M164 14H185" stroke="#00f" stroke-dasharray="4 2"/><path d="M164 27H185" stroke="#000"/><path d="M164 40H185" stroke="#f00" stroke-dasharray="4 2"/>
<text x="186" y="17">IS Max</text><text x="186" y="30">CS-UNAM</text><text x="186" y="43">IS Min</text>
<g text-anchor="end">
<text transform="translate(12,152) rotate(-90)"><tspan x="0" y="-2">Hardware and</tspan><tspan x="0" y="8">Architecture</tspan></text>
<text transform="translate(41,152) rotate(-90)"><tspan x="0" y="-2">Computer</tspan><tspan x="0" y="8">Science</tspan></text>
<text transform="translate(71,152) rotate(-90)"><tspan x="0" y="-2">Information</tspan><tspan x="0" y="8">Systems</tspan></text>
<text transform="translate(100,152) rotate(-90)"><tspan x="0" y="-2">Information</tspan><tspan x="0" y="8">Technology</tspan></text>
<text transform="translate(130,152) rotate(-90)"><tspan x="0" y="-2">Software</tspan><tspan x="0" y="8">Engineering</tspan></text>
<text transform="translate(159,152) rotate(-90)"><tspan x="0" y="-2">Mathematics</tspan><tspan x="0" y="8">for Computing</tspan></text>
<text transform="translate(188,152) rotate(-90)"><tspan x="0" y="-2">Basic</tspan><tspan x="0" y="8">Sciences</tspan></text>
<text transform="translate(218,152) rotate(-90)"><tspan x="0" y="3">Business</tspan></text>
<text transform="translate(247,152) rotate(-90)"><tspan x="0" y="-2">General</tspan><tspan x="0" y="8">Knowledge</tspan></text>
</g></g>
<!-- SE -->
<g class="sc" transform="translate(3702,1074)">
<polygon points="12,103 41,72 71,121 100,112 130,66 159,135 188,147 218,147 247,147 247,147 218,147 188,147 159,138 130,88 100,132 71,135 41,100 12,128" fill="#ff0"/>
<polyline points="12,103 41,72 71,121 100,112 130,66 159,135 188,147 218,147 247,147" fill="none" stroke="#00f" stroke-width="1.3" stroke-dasharray="4 3"/>
<polyline points="12,128 41,100 71,135 100,132 130,88 159,138 188,147 218,147 247,147" fill="none" stroke="#f00" stroke-width="1.3" stroke-dasharray="4 3"/>
<polyline points="12,140 38,-6 44,-6 71,147 100,122 130,113 159,135 188,84 218,147 247,115" fill="none" stroke="#000" stroke-width="1.3"/>
<rect width="256" height="147" fill="none" stroke="#000" stroke-width="1.3"/>
<g text-anchor="end"><text x="-3" y="3">50 %</text><text x="-3" y="32">40 %</text><text x="-3" y="62">30 %</text><text x="-3" y="91">20 %</text><text x="-3" y="121">10 %</text></g>
<rect x="161" y="7" width="87" height="42" fill="#fff" stroke="#000"/>
<path d="M164 14H185" stroke="#00f" stroke-dasharray="4 2"/><path d="M164 27H185" stroke="#000"/><path d="M164 40H185" stroke="#f00" stroke-dasharray="4 2"/>
<text x="186" y="17">SE Max</text><text x="186" y="30">CS-UNAM</text><text x="186" y="43">SE Min</text>
<g text-anchor="end">
<text transform="translate(12,152) rotate(-90)"><tspan x="0" y="-2">Hardware and</tspan><tspan x="0" y="8">Architecture</tspan></text>
<text transform="translate(41,152) rotate(-90)"><tspan x="0" y="-2">Computer</tspan><tspan x="0" y="8">Science</tspan></text>
<text transform="translate(71,152) rotate(-90)"><tspan x="0" y="-2">Information</tspan><tspan x="0" y="8">Systems</tspan></text>
<text transform="translate(100,152) rotate(-90)"><tspan x="0" y="-2">Information</tspan><tspan x="0" y="8">Technology</tspan></text>
<text transform="translate(130,152) rotate(-90)"><tspan x="0" y="-2">Software</tspan><tspan x="0" y="8">Engineering</tspan></text>
<text transform="translate(159,152) rotate(-90)"><tspan x="0" y="-2">Mathematics</tspan><tspan x="0" y="8">for Computing</tspan></text>
<text transform="translate(188,152) rotate(-90)"><tspan x="0" y="-2">Basic</tspan><tspan x="0" y="8">Sciences</tspan></text>
<text transform="translate(218,152) rotate(-90)"><tspan x="0" y="3">Business</tspan></text>
<text transform="translate(247,152) rotate(-90)"><tspan x="0" y="-2">General</tspan><tspan x="0" y="8">Knowledge</tspan></text>
</g></g>
<!-- IT -->
<g class="sc" transform="translate(4110,1074)">
<polygon points="12,123 41,94 71,121 100,47 130,113 159,135 188,147 218,147 247,147 247,147 218,147 188,147 159,141 130,129 100,66 71,132 41,115 12,138" fill="#ff0"/>
<polyline points="12,123 41,94 71,121 100,47 130,113 159,135 188,147 218,147 247,147" fill="none" stroke="#00f" stroke-width="1.3" stroke-dasharray="4 3"/>
<polyline points="12,138 41,115 71,132 100,66 130,129 159,141 188,147 218,147 247,147" fill="none" stroke="#f00" stroke-width="1.3" stroke-dasharray="4 3"/>
<polyline points="12,140 38,-6 44,-6 71,147 100,122 130,113 159,135 188,84 218,147 247,115" fill="none" stroke="#000" stroke-width="1.3"/>
<rect width="256" height="147" fill="none" stroke="#000" stroke-width="1.3"/>
<g text-anchor="end"><text x="-3" y="3">50 %</text><text x="-3" y="32">40 %</text><text x="-3" y="62">30 %</text><text x="-3" y="91">20 %</text><text x="-3" y="121">10 %</text></g>
<rect x="161" y="7" width="87" height="42" fill="#fff" stroke="#000"/>
<path d="M164 14H185" stroke="#00f" stroke-dasharray="4 2"/><path d="M164 27H185" stroke="#000"/><path d="M164 40H185" stroke="#f00" stroke-dasharray="4 2"/>
<text x="186" y="17">IT Max</text><text x="186" y="30">CS-UNAM</text><text x="186" y="43">IT Min</text>
<g text-anchor="end">
<text transform="translate(12,152) rotate(-90)"><tspan x="0" y="-2">Hardware and</tspan><tspan x="0" y="8">Architecture</tspan></text>
<text transform="translate(41,152) rotate(-90)"><tspan x="0" y="-2">Computer</tspan><tspan x="0" y="8">Science</tspan></text>
<text transform="translate(71,152) rotate(-90)"><tspan x="0" y="-2">Information</tspan><tspan x="0" y="8">Systems</tspan></text>
<text transform="translate(100,152) rotate(-90)"><tspan x="0" y="-2">Information</tspan><tspan x="0" y="8">Technology</tspan></text>
<text transform="translate(130,152) rotate(-90)"><tspan x="0" y="-2">Software</tspan><tspan x="0" y="8">Engineering</tspan></text>
<text transform="translate(159,152) rotate(-90)"><tspan x="0" y="-2">Mathematics</tspan><tspan x="0" y="8">for Computing</tspan></text>
<text transform="translate(188,152) rotate(-90)"><tspan x="0" y="-2">Basic</tspan><tspan x="0" y="8">Sciences</tspan></text>
<text transform="translate(218,152) rotate(-90)"><tspan x="0" y="3">Business</tspan></text>
<text transform="translate(247,152) rotate(-90)"><tspan x="0" y="-2">General</tspan><tspan x="0" y="8">Knowledge</tspan></text>
</g></g>

<!-- Course coding panel -->
<rect class="pn" x="3601" y="1355" width="849" height="263"/>
<rect x="3628" y="1372" width="792" height="223" fill="none" stroke="#000" stroke-width="1.5"/>
<text x="3638" y="1499" font-size="24" letter-spacing="5">C S 2 7 1</text>
<path d="M3740 1383H3689V1472M3740 1423H3713V1472M3731 1574V1506" stroke="#000" stroke-width="1.2" fill="none"/>
<path d="M3686 1468L3689 1476L3692 1468ZM3710 1468L3713 1476L3716 1468ZM3728 1510L3731 1502L3734 1510Z" fill="#000"/>
<g class="ct2">
<text x="3748" y="1385" font-size="14">Nivel</text>
<text x="3748" y="1401">1xx = «Introductory», 2xx = «Intermediate», 3xx = «Advanced», 4xx = «CaptoneProject»</text>
<text x="3748" y="1427" font-size="15">Tema (segundo dígito/letra)</text>
<text x="3748" y="1441">1 = Algoritmos y Complejidad (AL)</text>
<text x="3748" y="1456">2 = Arquitectura y Organización (AR)</text>
<text x="3748" y="1471">3 = Redes y Comunicaciones (NC)</text>
<text x="3748" y="1485">4 = Lenguajes de Programación (PL)</text>
<text x="3748" y="1500">5 = Gráficos y Visualización (GV)</text>
<text x="3748" y="1515">6 = Inteligencia Artificial (IA)</text>
<text x="3748" y="1529">7 = Gestión de Información (IM)</text>
<text x="3748" y="1544">8 = Asuntos Sociales y Práctica Profesional (SP)</text>
<text x="3748" y="1559">9 = Ingeniería de Software (SE)</text>
<text x="4035" y="1441">B = Desarrollo Basados en Plataforma (PBD)</text>
<text x="4035" y="1456">C = Ciencia Computacional (CN)</text>
<text x="4035" y="1471">D = Estructura Discretas (DS)</text>
<text x="4035" y="1485">F = Fundamentos del Desarrollo de Software (SDF)</text>
<text x="4035" y="1500">H = Interacción Humano Computador (HCI)</text>
<text x="4035" y="1515">I = Aseguramiento y Seguridad de la Información (IAS)</text>
<text x="4035" y="1529">P = Computación Paralela y Distribuída (PD)</text>
<text x="4035" y="1544">S = Sistemas Operativos (OS)</text>
<text x="4035" y="1559">U = Fundamentos de Sistemas (SF)</text>
<text x="3729" y="1579" font-size="14">Identificador numérico en el área</text>
</g>
<text class="st" x="4025" y="1642" font-size="21" textLength="270" lengthAdjust="spacingAndGlyphs">Computing Course Coding</text>

<!-- Venn panel -->
<rect class="pn" x="3601" y="1649" width="849" height="723"/>
<ellipse cx="4104" cy="1984" rx="315" ry="314" fill="none" stroke="#000" stroke-width="3"/>
<ellipse cx="4124" cy="2004" rx="165" ry="205" transform="rotate(-22 4124 2004)" fill="none" stroke="#ba55d3" stroke-width="2.2" stroke-dasharray="7 5"/>
<ellipse cx="4105" cy="1995" rx="118" ry="118" fill="none" stroke="#ffa500" stroke-width="2.2" stroke-dasharray="7 5"/>
<ellipse cx="3981" cy="2083" rx="99" ry="157" fill="none" stroke="#00f" stroke-width="2.2" stroke-dasharray="5 5"/>
<ellipse cx="4172" cy="2092" rx="125" ry="160" transform="rotate(25 4172 2092)" fill="none" stroke="#32cd32" stroke-width="2.2" stroke-dasharray="6 5"/>
<ellipse cx="4267" cy="1965" rx="110" ry="177" fill="none" stroke="#00f" stroke-width="3.5" stroke-dasharray="6 5"/>
<polygon points="4213,1999 4271,1999 4291,2030 4277,2088 4207,2088 4193,2030" fill="none" stroke="#ff4500" stroke-width="3" stroke-dasharray="7 5"/>
<rect x="4156" y="2091" width="43" height="26" rx="8" fill="#f5e020" stroke="#000" stroke-width="2"/>
<g class="vt">
<text x="4102" y="1713" fill="#a00000">Computing</text>
<text x="3709" y="1743">Domain Activity</text><text x="3709" y="1761">Enabled by Computing</text>
<text x="3709" y="1979">Computing</text><text x="3709" y="1997">Technology</text>
<text x="3709" y="2216">Computing</text><text x="3709" y="2234">Foundations</text>
<text x="3945" y="2343">Hardware</text><text x="4102" y="2343">Software</text>
<text x="4259" y="2334">Organizational</text><text x="4259" y="2352">needs</text>
<text x="4070" y="1839" fill="#ba55d3" font-size="11">Security</text>
<text x="4026" y="1873" fill="#ba55d3" font-size="16" font-weight="normal">CY</text>
<text x="4094" y="1909" fill="#ffa500" font-size="11">IT Platforms</text><text x="4094" y="1923" fill="#ffa500" font-size="11">and</text><text x="4094" y="1936" fill="#ffa500" font-size="11">Infrastructure</text>
<text x="4264" y="1817" fill="#00f" font-size="11">Digital Transformation</text><text x="4264" y="1831" fill="#00f" font-size="11">and</text><text x="4264" y="1845" fill="#00f" font-size="11">Intelligence</text>
<text x="4261" y="1892" font-size="15">IS</text>
<text x="4317" y="1919" fill="#00f" font-size="15">DS</text>
<text x="4171" y="1974" font-size="15">IT</text>
<text x="4152" y="2058" font-size="15">SE</text>
<text x="4242" y="2049" fill="#ff4500" font-size="15">AI</text>
<text x="4048" y="2108" fill="#00f" font-size="15">CE</text>
<text x="4177" y="2110" font-size="18" font-weight="normal">CS</text>
<text x="4142" y="2166" fill="#228b22" font-size="11">Software</text>
<text x="3985" y="2186" fill="#00f" font-size="11">Hardware</text>
</g>
<text class="st" x="4025" y="2397" font-size="22" textLength="434" lengthAdjust="spacingAndGlyphs">ACM/IEEE-CS Computing Curricula 2020</text>

<!-- Credits by area -->
<rect class="pn" x="3605" y="2412" width="416" height="321"/>
<path d="M3791 2559L3910.2 2544.8A120 120 0 0 1 3911 2559Z" fill="#bebebe" stroke="#000" stroke-width="1.5"/>
<path d="M3791 2559L3911 2559A120 120 0 0 1 3905.6 2594.7Z" fill="#f08080" stroke="#000" stroke-width="1.5"/>
<path d="M3791 2559L3905.6 2594.7A120 120 0 0 1 3765.4 2676.2Z" fill="#0f0" stroke="#000" stroke-width="1.5"/>
<path d="M3791 2559L3765.4 2676.2A120 120 0 0 1 3751.8 2672.4Z" fill="#a020f0" stroke="#000" stroke-width="1.5"/>
<path d="M3791 2559L3751.8 2672.4A120 120 0 1 1 3910.2 2544.8Z" fill="#00f" stroke="#000" stroke-width="1.5"/>
<g font-size="20"><text x="3631" y="2448">CS (140)</text><text x="3717" y="2511">67.6 %</text><text x="3925" y="2556">CB (4)</text><text x="3925" y="2588">ID (10)</text><text x="3846" y="2699">FG (49)</text><text x="3717" y="2708">AI (4)</text><text x="3799" y="2632">23.6 %</text><text x="3748" y="2637">1.9 %</text><text x="3840" y="2561" font-size="17">1.9 %</text><text x="3840" y="2578" font-size="17">4.8 %</text></g>
<text x="3814" y="2759" font-size="24" fill="#fff" text-anchor="middle">Credits by area</text>

<!-- Credits by level -->
<rect class="pn" x="4029" y="2455" width="415" height="233"/>
<path d="M4243 2571L4336 2571A93 93 0 0 1 4329 2606.3Z" fill="#bebebe" stroke="#000"/>
<path d="M4243 2571L4329 2606.3A93 93 0 0 1 4212.7 2659Z" fill="#0f0" stroke="#000"/>
<path d="M4243 2571L4212.7 2659A93 93 0 0 1 4184.1 2499Z" fill="#ff0" stroke="#000"/>
<path d="M4243 2571L4184.1 2499A93 93 0 0 1 4336 2571Z" fill="#fff" stroke="#000"/>
<g font-size="11"><text x="4270" y="2484">Introductory (74)</text><text x="4253" y="2524">35.7 %</text><text x="4042" y="2588">Intermediate (70)</text><text x="4172" y="2584">33.8 %</text><text x="4284" y="2586">6.2 %</text><text x="4386" y="2586" text-anchor="middle">Capstone</text><text x="4386" y="2601" text-anchor="middle">project (13)</text><text x="4251" y="2627">24.1 %</text><text x="4270" y="2664">Advanced (50)</text></g>
<text x="4237" y="2712" font-size="24" fill="#fff" text-anchor="middle">Credits by level</text>

<!-- Credits by type -->
<rect class="pn" x="3619" y="2765" width="351" height="266"/>
<g stroke="#aaa" stroke-dasharray="2 3"><path d="M3678 2810H3941M3678 2853H3941M3678 2897H3941M3678 2940H3941"/></g>
<polygon points="3682,2784 3711,2784 3740,2801 3768,2793 3797,2801 3826,2801 3855,2793 3884,2819 3912,2819 3941,2845 3941,2983 3682,2983" fill="#ff0"/>
<polygon points="3682,2784 3711,2784 3740,2801 3768,2810 3797,2801 3826,2801 3855,2827 3884,2845 3912,2922 3941,2905 3941,2983 3682,2983" fill="#f00"/>
<polygon points="3682,2819 3711,2879 3740,2897 3768,2940 3797,2966 3826,2957 3855,2948 3884,2948 3912,2983 3941,2966 3941,2983 3682,2983" fill="#bebebe"/>
<g font-size="7" text-anchor="end"><text x="3676" y="2812">20</text><text x="3676" y="2855">15</text><text x="3676" y="2899">10</text><text x="3676" y="2942">5</text></g>
<g font-size="7" text-anchor="end">
<text transform="translate(3682,2990) rotate(-40)">1st Sem</text><text transform="translate(3711,2990) rotate(-40)">2nd Sem</text><text transform="translate(3740,2990) rotate(-40)">3rd Sem</text><text transform="translate(3768,2990) rotate(-40)">4th Sem</text><text transform="translate(3797,2990) rotate(-40)">5th Sem</text><text transform="translate(3826,2990) rotate(-40)">6th Sem</text><text transform="translate(3855,2990) rotate(-40)">7th Sem</text><text transform="translate(3884,2990) rotate(-40)">8th Sem</text><text transform="translate(3912,2990) rotate(-40)">9th Sem</text><text transform="translate(3941,2990) rotate(-40)">10th Sem</text>
</g>
<text x="3796" y="3054" font-size="24" fill="#fff" text-anchor="middle">Credits by type of course</text>

<!-- Distribution table -->
<rect class="pn" x="4009" y="2798" width="436" height="199"/>
<rect x="4127" y="2819" width="100" height="11" fill="#bebebe"/>
<rect x="4234" y="2819" width="61" height="11" fill="#f00"/>
<rect x="4304" y="2819" width="82" height="11" fill="#ff0"/>
<g stroke="#000" stroke-width="0.8" fill="none">
<rect x="4036" y="2818" width="381" height="157"/>
<path d="M4036 2831H4417M4036 2843H4417M4036 2855H4417M4036 2867H4417M4036 2879H4417M4036 2891H4417M4036 2903H4417M4036 2915H4417M4036 2927H4417M4036 2939H4417M4036 2951H4417M4036 2963H4417M4123 2818V2975M4230 2818V2975M4300 2818V2975M4390 2818V2975"/>
</g>
<g font-size="9.5">
<text x="4176" y="2828" text-anchor="middle" font-weight="bold">Estudios generales</text><text x="4265" y="2828" text-anchor="middle" font-weight="bold">Específicos</text><text x="4345" y="2828" text-anchor="middle" font-weight="bold">Especialización</text>
<text x="4042" y="2840">Primer Sem</text><text x="4042" y="2852">Segundo Sem</text><text x="4042" y="2864">Tercer Sem</text><text x="4042" y="2876">Cuarto Sem</text><text x="4042" y="2888">Quinto Sem</text><text x="4042" y="2900">Sexto Sem</text><text x="4042" y="2912">Séptimo Sem</text><text x="4042" y="2924">Octavo Sem</text><text x="4042" y="2936">Noveno Sem</text><text x="4042" y="2948">Décimo Sem</text><text x="4042" y="2960" font-weight="bold">Total</text>
<g text-anchor="middle">
<text x="4176" y="2840">19</text><text x="4265" y="2840">4</text><text x="4404" y="2840">23</text>
<text x="4176" y="2852">12</text><text x="4265" y="2852">11</text><text x="4404" y="2852">23</text>
<text x="4176" y="2864">10</text><text x="4265" y="2864">11</text><text x="4404" y="2864">21</text>
<text x="4176" y="2876">5</text><text x="4265" y="2876">15</text><text x="4345" y="2876">2</text><text x="4404" y="2876">22</text>
<text x="4176" y="2888">2</text><text x="4265" y="2888">19</text><text x="4404" y="2888">21</text>
<text x="4176" y="2900">3</text><text x="4265" y="2900">18</text><text x="4404" y="2900">21</text>
<text x="4176" y="2912">4</text><text x="4265" y="2912">14</text><text x="4345" y="2912">4</text><text x="4404" y="2912">22</text>
<text x="4176" y="2924">4</text><text x="4265" y="2924">12</text><text x="4345" y="2924">3</text><text x="4404" y="2924">19</text>
<text x="4265" y="2936">7</text><text x="4345" y="2936">12</text><text x="4404" y="2936">19</text>
<text x="4176" y="2948">2</text><text x="4265" y="2948">7</text><text x="4345" y="2948">7</text><text x="4404" y="2948">16</text>
<text x="4176" y="2960">61</text><text x="4265" y="2960">118</text><text x="4345" y="2960">28</text><text x="4404" y="2960">207</text>
<text x="4176" y="2972">29.4 %</text><text x="4265" y="2972">57 %</text><text x="4345" y="2972">13.5 %</text>
</g></g>
<text x="4219" y="3021" font-size="24" fill="#fff" text-anchor="middle">Distribution by areas</text>
</svg>
</body></html>
